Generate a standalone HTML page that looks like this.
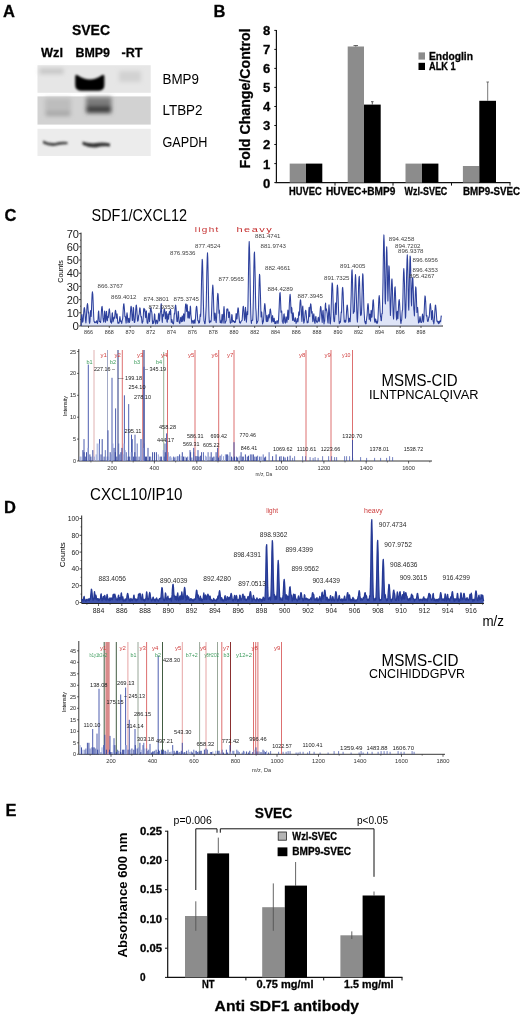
<!DOCTYPE html>
<html><head><meta charset="utf-8"><title>Figure</title>
<style>
html,body{margin:0;padding:0;background:#fff;}
svg{display:block;font-family:"Liberation Sans",sans-serif;}
text[font-weight="bold"]{stroke:#111;stroke-width:.3px;}
</style></head><body>
<svg width="520" height="1021" viewBox="0 0 520 1021">
<defs>
<filter id="b1" x="-20%" y="-50%" width="140%" height="200%"><feGaussianBlur stdDeviation="0.9"/></filter>
<filter id="b2" x="-20%" y="-50%" width="140%" height="200%"><feGaussianBlur stdDeviation="2"/></filter>
</defs>
<rect width="520" height="1021" fill="#fff"/>
<text x="3.0" y="17.0" font-size="16.5" font-weight="bold">A</text>
<text x="213.5" y="16.8" font-size="16.5" font-weight="bold">B</text>
<text x="4.5" y="221.0" font-size="16.5" font-weight="bold">C</text>
<text x="4.0" y="512.5" font-size="16.5" font-weight="bold">D</text>
<text x="5.5" y="815.8" font-size="16.5" font-weight="bold">E</text>
<text x="72.0" y="35.0" font-size="15" font-weight="bold" textLength="38.0" lengthAdjust="spacingAndGlyphs">SVEC</text>
<text x="41.0" y="57.0" font-size="12.5" font-weight="bold" textLength="22.0" lengthAdjust="spacingAndGlyphs">Wzl</text>
<text x="75.5" y="57.0" font-size="12.5" font-weight="bold" textLength="34.5" lengthAdjust="spacingAndGlyphs">BMP9</text>
<text x="121.5" y="57.0" font-size="12.5" font-weight="bold" textLength="21.0" lengthAdjust="spacingAndGlyphs">-RT</text>
<text x="162.5" y="84.0" font-size="14.5" textLength="36.5" lengthAdjust="spacingAndGlyphs">BMP9</text>
<text x="162.5" y="115.0" font-size="14.5" textLength="40.0" lengthAdjust="spacingAndGlyphs">LTBP2</text>
<text x="162.5" y="146.5" font-size="14.5" textLength="45.0" lengthAdjust="spacingAndGlyphs">GAPDH</text>
<g id="gel">
<rect x="37.5" y="65.2" width="113.2" height="27.6" fill="#e6e6e6" />
<rect x="37.5" y="96.4" width="113.2" height="28.2" fill="#d2d2d2" />
<rect x="37.5" y="128.8" width="113.2" height="27.2" fill="#ececec" />
<g filter="url(#b2)">
<rect x="39.5" y="68.5" width="24.0" height="5.5" fill="#c6c6c6" />
<rect x="119.0" y="71.0" width="22.0" height="11.0" fill="#d2d2d2" />
<rect x="45.0" y="98.0" width="26.0" height="18.0" fill="#bdbdbd" />
<rect x="46.0" y="111.5" width="24.0" height="4.5" fill="#a4a4a4" />
<rect x="86.0" y="97.0" width="25.5" height="16.0" fill="#7c7c7c" />
<rect x="86.5" y="106.0" width="24.5" height="7.0" fill="#3c3c3c" />
</g>
<g filter="url(#b1)">
<path d="M75.2 77 Q75.2 73.500 78 75.5 Q90 83.5 101.5 75.5 Q104.4 73.500 104.4 77 L104.4 85 Q104.4 90.8 98 90.8 L82 90.8 Q75.2 90.8 75.2 85 Z" fill="#030303"/>
<path d="M43 140.500 Q49 143.500 55 143 Q61 141 67.5 142 L67.5 144.3 Q61 143.8 55 145.8 Q49 146.500 43 143.500 Z" fill="#444"/>
<path d="M82.5 141.500 Q89 144 96 143 Q103 142 110 143.500 L110 146.5 Q103 145.5 96 147.5 Q89 148 82.5 144.800 Z" fill="#383838"/>
</g>
</g>
<text transform="translate(249.8,98.4) rotate(-90)" text-anchor="middle" font-size="14" font-weight="bold" textLength="140.0" lengthAdjust="spacingAndGlyphs">Fold Change/Control</text>
<line x1="274.3" y1="182.6" x2="276.4" y2="182.6" stroke="#111" stroke-width="1" />
<text x="270.2" y="187.5" font-size="12" font-weight="bold" text-anchor="end" textLength="7.3" lengthAdjust="spacingAndGlyphs">0</text>
<line x1="274.3" y1="163.6" x2="276.4" y2="163.6" stroke="#111" stroke-width="1" />
<text x="270.2" y="168.5" font-size="12" font-weight="bold" text-anchor="end" textLength="7.3" lengthAdjust="spacingAndGlyphs">1</text>
<line x1="274.3" y1="144.5" x2="276.4" y2="144.5" stroke="#111" stroke-width="1" />
<text x="270.2" y="149.4" font-size="12" font-weight="bold" text-anchor="end" textLength="7.3" lengthAdjust="spacingAndGlyphs">2</text>
<line x1="274.3" y1="125.5" x2="276.4" y2="125.5" stroke="#111" stroke-width="1" />
<text x="270.2" y="130.4" font-size="12" font-weight="bold" text-anchor="end" textLength="7.3" lengthAdjust="spacingAndGlyphs">3</text>
<line x1="274.3" y1="106.5" x2="276.4" y2="106.5" stroke="#111" stroke-width="1" />
<text x="270.2" y="111.4" font-size="12" font-weight="bold" text-anchor="end" textLength="7.3" lengthAdjust="spacingAndGlyphs">4</text>
<line x1="274.3" y1="87.4" x2="276.4" y2="87.4" stroke="#111" stroke-width="1" />
<text x="270.2" y="92.3" font-size="12" font-weight="bold" text-anchor="end" textLength="7.3" lengthAdjust="spacingAndGlyphs">5</text>
<line x1="274.3" y1="68.4" x2="276.4" y2="68.4" stroke="#111" stroke-width="1" />
<text x="270.2" y="73.3" font-size="12" font-weight="bold" text-anchor="end" textLength="7.3" lengthAdjust="spacingAndGlyphs">6</text>
<line x1="274.3" y1="49.4" x2="276.4" y2="49.4" stroke="#111" stroke-width="1" />
<text x="270.2" y="54.3" font-size="12" font-weight="bold" text-anchor="end" textLength="7.3" lengthAdjust="spacingAndGlyphs">7</text>
<line x1="274.3" y1="30.4" x2="276.4" y2="30.4" stroke="#111" stroke-width="1" />
<text x="270.2" y="35.3" font-size="12" font-weight="bold" text-anchor="end" textLength="7.3" lengthAdjust="spacingAndGlyphs">8</text>
<line x1="276.4" y1="29.9" x2="276.4" y2="183.1" stroke="#111" stroke-width="1.2" />
<line x1="275.5" y1="182.6" x2="510.5" y2="182.6" stroke="#111" stroke-width="1.2" />
<line x1="335.0" y1="182.6" x2="335.0" y2="185.6" stroke="#111" stroke-width="1" />
<line x1="393.0" y1="182.6" x2="393.0" y2="185.6" stroke="#111" stroke-width="1" />
<line x1="451.5" y1="182.6" x2="451.5" y2="185.6" stroke="#111" stroke-width="1" />
<line x1="510.0" y1="182.6" x2="510.0" y2="185.6" stroke="#111" stroke-width="1" />
<rect x="289.7" y="163.6" width="16.3" height="19.0" fill="#8c8c8c" />
<rect x="306.0" y="163.6" width="16.3" height="19.0" fill="#000" />
<rect x="347.7" y="46.5" width="16.3" height="136.1" fill="#8c8c8c" />
<rect x="364.0" y="104.6" width="16.7" height="78.0" fill="#000" />
<rect x="405.5" y="163.6" width="16.5" height="19.0" fill="#8c8c8c" />
<rect x="422.0" y="163.6" width="16.4" height="19.0" fill="#000" />
<rect x="462.9" y="166.0" width="16.4" height="16.6" fill="#8c8c8c" />
<rect x="479.3" y="100.8" width="16.7" height="81.8" fill="#000" />
<line x1="355.8" y1="46.5" x2="355.8" y2="45.6" stroke="#333" stroke-width="0.8" />
<line x1="353.5" y1="45.6" x2="358.0" y2="45.6" stroke="#333" stroke-width="0.8" />
<line x1="372.3" y1="104.6" x2="372.3" y2="101.7" stroke="#333" stroke-width="0.8" />
<line x1="371.0" y1="101.7" x2="373.6" y2="101.7" stroke="#333" stroke-width="0.8" />
<line x1="487.7" y1="100.8" x2="487.7" y2="82.0" stroke="#555" stroke-width="0.8" />
<line x1="486.4" y1="82.0" x2="489.0" y2="82.0" stroke="#555" stroke-width="0.8" />
<rect x="418.5" y="52.4" width="6.5" height="7.2" fill="#8c8c8c" />
<rect x="418.5" y="62.8" width="6.5" height="7.2" fill="#000" />
<text x="429.0" y="60.0" font-size="10" font-weight="bold" textLength="44.0" lengthAdjust="spacingAndGlyphs">Endoglin</text>
<text x="429.0" y="70.2" font-size="10" font-weight="bold" textLength="26.7" lengthAdjust="spacingAndGlyphs">ALK 1</text>
<text x="289.0" y="195.3" font-size="10" font-weight="bold" textLength="32.7" lengthAdjust="spacingAndGlyphs">HUVEC</text>
<text x="326.0" y="195.3" font-size="10" font-weight="bold" textLength="69.4" lengthAdjust="spacingAndGlyphs">HUVEC+BMP9</text>
<text x="404.6" y="195.3" font-size="10" font-weight="bold" textLength="42.7" lengthAdjust="spacingAndGlyphs">Wzl-SVEC</text>
<text x="463.0" y="195.3" font-size="10" font-weight="bold" textLength="57.0" lengthAdjust="spacingAndGlyphs">BMP9-SVEC</text>
<text x="91.5" y="221.0" font-size="16.5" textLength="95.5" lengthAdjust="spacingAndGlyphs">SDF1/CXCL12</text>
<line x1="81.0" y1="232.6" x2="81.0" y2="326.0" stroke="#222" stroke-width="1" />
<line x1="81.0" y1="326.0" x2="443.0" y2="326.0" stroke="#222" stroke-width="1" />
<line x1="79.0" y1="326.0" x2="81.0" y2="326.0" stroke="#222" stroke-width="0.8" />
<text x="79.0" y="330.1" font-size="11.5" fill="#222" text-anchor="end">0</text>
<line x1="79.0" y1="312.8" x2="81.0" y2="312.8" stroke="#222" stroke-width="0.8" />
<text x="79.0" y="316.9" font-size="11.5" fill="#222" text-anchor="end" textLength="12.3" lengthAdjust="spacingAndGlyphs">10</text>
<line x1="79.0" y1="299.6" x2="81.0" y2="299.6" stroke="#222" stroke-width="0.8" />
<text x="79.0" y="303.7" font-size="11.5" fill="#222" text-anchor="end" textLength="12.3" lengthAdjust="spacingAndGlyphs">20</text>
<line x1="79.0" y1="286.4" x2="81.0" y2="286.4" stroke="#222" stroke-width="0.8" />
<text x="79.0" y="290.5" font-size="11.5" fill="#222" text-anchor="end" textLength="12.3" lengthAdjust="spacingAndGlyphs">30</text>
<line x1="79.0" y1="273.2" x2="81.0" y2="273.2" stroke="#222" stroke-width="0.8" />
<text x="79.0" y="277.3" font-size="11.5" fill="#222" text-anchor="end" textLength="12.3" lengthAdjust="spacingAndGlyphs">40</text>
<line x1="79.0" y1="260.0" x2="81.0" y2="260.0" stroke="#222" stroke-width="0.8" />
<text x="79.0" y="264.1" font-size="11.5" fill="#222" text-anchor="end" textLength="12.3" lengthAdjust="spacingAndGlyphs">50</text>
<line x1="79.0" y1="246.8" x2="81.0" y2="246.8" stroke="#222" stroke-width="0.8" />
<text x="79.0" y="250.9" font-size="11.5" fill="#222" text-anchor="end" textLength="12.3" lengthAdjust="spacingAndGlyphs">60</text>
<line x1="79.0" y1="233.6" x2="81.0" y2="233.6" stroke="#222" stroke-width="0.8" />
<text x="79.0" y="237.7" font-size="11.5" fill="#222" text-anchor="end" textLength="12.3" lengthAdjust="spacingAndGlyphs">70</text>
<line x1="80.0" y1="319.4" x2="81.0" y2="319.4" stroke="#222" stroke-width="0.6" />
<line x1="80.0" y1="306.2" x2="81.0" y2="306.2" stroke="#222" stroke-width="0.6" />
<line x1="80.0" y1="293.0" x2="81.0" y2="293.0" stroke="#222" stroke-width="0.6" />
<line x1="80.0" y1="279.8" x2="81.0" y2="279.8" stroke="#222" stroke-width="0.6" />
<line x1="80.0" y1="266.6" x2="81.0" y2="266.6" stroke="#222" stroke-width="0.6" />
<line x1="80.0" y1="253.4" x2="81.0" y2="253.4" stroke="#222" stroke-width="0.6" />
<line x1="80.0" y1="240.2" x2="81.0" y2="240.2" stroke="#222" stroke-width="0.6" />
<text transform="translate(63.2,271.5) rotate(-90)" text-anchor="middle" font-size="7.5" textLength="22.5" lengthAdjust="spacingAndGlyphs">Counts</text>
<line x1="88.5" y1="326.0" x2="88.5" y2="328.0" stroke="#222" stroke-width="0.7" />
<text x="88.5" y="334.0" font-size="4.5" fill="#333" text-anchor="middle" textLength="9.0" lengthAdjust="spacingAndGlyphs">866</text>
<line x1="109.3" y1="326.0" x2="109.3" y2="328.0" stroke="#222" stroke-width="0.7" />
<text x="109.3" y="334.0" font-size="4.5" fill="#333" text-anchor="middle" textLength="9.0" lengthAdjust="spacingAndGlyphs">868</text>
<line x1="130.1" y1="326.0" x2="130.1" y2="328.0" stroke="#222" stroke-width="0.7" />
<text x="130.1" y="334.0" font-size="4.5" fill="#333" text-anchor="middle" textLength="9.0" lengthAdjust="spacingAndGlyphs">870</text>
<line x1="150.8" y1="326.0" x2="150.8" y2="328.0" stroke="#222" stroke-width="0.7" />
<text x="150.8" y="334.0" font-size="4.5" fill="#333" text-anchor="middle" textLength="9.0" lengthAdjust="spacingAndGlyphs">872</text>
<line x1="171.6" y1="326.0" x2="171.6" y2="328.0" stroke="#222" stroke-width="0.7" />
<text x="171.6" y="334.0" font-size="4.5" fill="#333" text-anchor="middle" textLength="9.0" lengthAdjust="spacingAndGlyphs">874</text>
<line x1="192.4" y1="326.0" x2="192.4" y2="328.0" stroke="#222" stroke-width="0.7" />
<text x="192.4" y="334.0" font-size="4.5" fill="#333" text-anchor="middle" textLength="9.0" lengthAdjust="spacingAndGlyphs">876</text>
<line x1="213.2" y1="326.0" x2="213.2" y2="328.0" stroke="#222" stroke-width="0.7" />
<text x="213.2" y="334.0" font-size="4.5" fill="#333" text-anchor="middle" textLength="9.0" lengthAdjust="spacingAndGlyphs">878</text>
<line x1="234.0" y1="326.0" x2="234.0" y2="328.0" stroke="#222" stroke-width="0.7" />
<text x="234.0" y="334.0" font-size="4.5" fill="#333" text-anchor="middle" textLength="9.0" lengthAdjust="spacingAndGlyphs">880</text>
<line x1="254.7" y1="326.0" x2="254.7" y2="328.0" stroke="#222" stroke-width="0.7" />
<text x="254.7" y="334.0" font-size="4.5" fill="#333" text-anchor="middle" textLength="9.0" lengthAdjust="spacingAndGlyphs">882</text>
<line x1="275.5" y1="326.0" x2="275.5" y2="328.0" stroke="#222" stroke-width="0.7" />
<text x="275.5" y="334.0" font-size="4.5" fill="#333" text-anchor="middle" textLength="9.0" lengthAdjust="spacingAndGlyphs">884</text>
<line x1="296.3" y1="326.0" x2="296.3" y2="328.0" stroke="#222" stroke-width="0.7" />
<text x="296.3" y="334.0" font-size="4.5" fill="#333" text-anchor="middle" textLength="9.0" lengthAdjust="spacingAndGlyphs">886</text>
<line x1="317.1" y1="326.0" x2="317.1" y2="328.0" stroke="#222" stroke-width="0.7" />
<text x="317.1" y="334.0" font-size="4.5" fill="#333" text-anchor="middle" textLength="9.0" lengthAdjust="spacingAndGlyphs">888</text>
<line x1="337.9" y1="326.0" x2="337.9" y2="328.0" stroke="#222" stroke-width="0.7" />
<text x="337.9" y="334.0" font-size="4.5" fill="#333" text-anchor="middle" textLength="9.0" lengthAdjust="spacingAndGlyphs">890</text>
<line x1="358.6" y1="326.0" x2="358.6" y2="328.0" stroke="#222" stroke-width="0.7" />
<text x="358.6" y="334.0" font-size="4.5" fill="#333" text-anchor="middle" textLength="9.0" lengthAdjust="spacingAndGlyphs">892</text>
<line x1="379.4" y1="326.0" x2="379.4" y2="328.0" stroke="#222" stroke-width="0.7" />
<text x="379.4" y="334.0" font-size="4.5" fill="#333" text-anchor="middle" textLength="9.0" lengthAdjust="spacingAndGlyphs">894</text>
<line x1="400.2" y1="326.0" x2="400.2" y2="328.0" stroke="#222" stroke-width="0.7" />
<text x="400.2" y="334.0" font-size="4.5" fill="#333" text-anchor="middle" textLength="9.0" lengthAdjust="spacingAndGlyphs">896</text>
<line x1="421.0" y1="326.0" x2="421.0" y2="328.0" stroke="#222" stroke-width="0.7" />
<text x="421.0" y="334.0" font-size="4.5" fill="#333" text-anchor="middle" textLength="9.0" lengthAdjust="spacingAndGlyphs">898</text>
<polygon points="81.2,326.0 81.2,326.0 81.5,315.4 81.9,314.5 82.2,318.1 82.5,322.2 82.8,321.9 83.1,320.9 83.4,317.0 83.7,312.6 84.0,308.9 84.3,307.5 84.7,308.9 85.0,312.6 85.3,317.0 85.6,320.9 85.9,323.0 86.2,319.8 86.5,315.1 86.8,309.7 87.1,305.3 87.5,303.6 87.8,305.3 88.1,309.7 88.4,313.1 88.7,312.1 89.0,316.4 89.3,321.8 89.6,323.3 90.0,321.3 90.3,315.3 90.6,310.5 90.9,311.7 91.2,316.5 91.5,309.3 91.8,301.1 92.1,294.3 92.4,291.7 92.8,294.3 93.1,301.1 93.4,309.3 93.7,316.5 94.0,321.2 94.3,321.7 94.6,322.7 94.9,321.7 95.3,322.3 95.6,322.3 95.9,322.8 96.2,322.4 96.5,320.8 96.8,321.4 97.1,321.3 97.4,323.6 97.7,322.4 98.1,317.7 98.4,312.1 98.7,311.0 99.0,315.7 99.3,321.4 99.6,321.4 99.9,321.8 100.2,321.7 100.6,322.5 100.9,319.2 101.2,314.8 101.5,310.1 101.8,306.9 102.1,306.4 102.4,308.8 102.7,313.2 103.0,317.9 103.4,320.8 103.7,322.1 104.0,321.4 104.3,315.7 104.6,311.0 104.9,312.1 105.2,317.7 105.5,322.3 105.9,320.0 106.2,314.3 106.5,311.3 106.8,314.3 107.1,320.0 107.4,320.7 107.7,317.1 108.0,316.4 108.3,317.6 108.7,313.5 109.0,310.2 109.3,308.8 109.6,310.2 109.9,313.5 110.2,317.6 110.5,321.2 110.8,322.4 111.2,322.4 111.5,323.2 111.8,318.6 112.1,313.6 112.4,312.7 112.7,316.8 113.0,321.9 113.3,320.9 113.6,319.9 114.0,317.2 114.3,317.8 114.6,318.3 114.9,314.5 115.2,311.4 115.5,310.2 115.8,311.4 116.1,314.5 116.4,318.3 116.8,314.7 117.1,313.9 117.4,317.6 117.7,322.1 118.0,323.3 118.3,323.2 118.6,322.3 118.9,323.3 119.3,322.1 119.6,318.5 119.9,316.6 120.2,318.5 120.5,321.2 120.8,321.7 121.1,321.9 121.4,321.1 121.7,323.4 122.1,321.0 122.4,319.7 122.7,318.3 123.0,313.3 123.3,308.0 123.6,304.3 123.9,303.8 124.2,306.5 124.6,311.5 124.9,316.8 125.2,316.2 125.5,316.9 125.8,320.6 126.1,323.1 126.4,320.5 126.7,315.4 127.0,312.7 127.4,315.4 127.7,320.5 128.0,322.8 128.3,321.7 128.6,318.8 128.9,318.3 129.2,320.7 129.5,322.4 129.9,320.5 130.2,316.4 130.5,311.6 130.8,307.7 131.1,306.2 131.4,307.7 131.7,311.6 132.0,316.4 132.3,320.5 132.7,320.3 133.0,313.2 133.3,307.4 133.6,308.7 133.9,315.7 134.2,322.1 134.5,322.5 134.8,322.0 135.2,318.8 135.5,314.0 135.8,309.1 136.1,305.6 136.4,305.1 136.7,307.7 137.0,312.3 137.3,317.3 137.6,321.3 138.0,320.9 138.3,319.9 138.6,315.7 138.9,314.9 139.2,314.0 139.5,310.0 139.8,307.7 140.1,308.2 140.4,311.2 140.8,315.5 141.1,317.1 141.4,316.4 141.7,319.4 142.0,322.8 142.3,323.1 142.6,321.5 142.9,321.8 143.3,316.2 143.6,309.5 143.9,308.3 144.2,311.1 144.5,309.0 144.8,309.4 145.1,312.3 145.4,316.3 145.7,317.7 146.1,312.0 146.4,310.9 146.7,315.6 147.0,321.4 147.3,323.2 147.6,321.3 147.9,323.3 148.2,318.8 148.6,314.0 148.9,313.0 149.2,317.1 149.5,321.7 149.8,318.4 150.1,314.0 150.4,310.0 150.7,307.7 151.0,308.2 151.4,311.2 151.7,311.5 152.0,314.4 152.3,320.0 152.6,323.8 152.9,320.9 153.2,321.4 153.5,323.2 153.9,322.3 154.2,317.6 154.5,313.8 154.8,314.7 155.1,319.3 155.4,321.2 155.7,324.0 156.0,320.7 156.3,321.3 156.7,320.1 157.0,321.3 157.3,323.6 157.6,322.7 157.9,322.1 158.2,319.0 158.5,314.2 158.8,313.3 159.2,317.2 159.5,321.0 159.8,317.8 160.1,314.4 160.4,312.0 160.7,311.6 161.0,305.3 161.3,303.7 161.6,310.6 162.0,319.2 162.3,322.4 162.6,317.9 162.9,314.3 163.2,315.2 163.5,316.3 163.8,312.3 164.1,309.4 164.5,309.0 164.8,311.1 165.1,314.9 165.4,318.9 165.7,318.0 166.0,312.6 166.3,311.6 166.6,316.1 166.9,321.4 167.3,322.2 167.6,317.6 167.9,313.8 168.2,314.7 168.5,319.3 168.8,316.6 169.1,313.4 169.4,311.6 169.7,312.0 170.1,314.4 170.4,309.3 170.7,310.5 171.0,316.8 171.3,322.5 171.6,320.8 171.9,319.5 172.2,320.8 172.6,322.7 172.9,323.5 173.2,322.8 173.5,323.9 173.8,320.7 174.1,315.6 174.4,313.1 174.7,314.0 175.0,309.1 175.4,305.6 175.7,305.1 176.0,307.7 176.3,312.3 176.6,317.3 176.9,321.3 177.2,321.6 177.5,321.5 177.9,315.8 178.2,311.2 178.5,312.2 178.8,317.8 179.1,322.2 179.4,322.1 179.7,323.5 180.0,322.7 180.3,320.0 180.7,317.3 181.0,317.9 181.3,321.2 181.6,321.8 181.9,317.9 182.2,315.9 182.5,317.9 182.8,321.4 183.2,319.2 183.5,314.6 183.8,313.7 184.1,317.5 184.4,321.3 184.7,318.3 185.0,313.3 185.3,308.0 185.6,304.3 186.0,303.8 186.3,306.5 186.6,311.5 186.9,309.0 187.2,304.7 187.5,309.0 187.8,317.3 188.1,318.1 188.5,312.7 188.8,311.6 189.1,316.1 189.4,318.3 189.7,314.5 190.0,311.4 190.3,306.1 190.6,307.5 190.9,314.5 191.3,318.3 191.6,321.6 191.9,323.3 192.2,323.0 192.5,321.6 192.8,320.4 193.1,320.8 193.4,321.7 193.8,323.5 194.1,321.1 194.4,319.9 194.7,321.1 195.0,323.3 195.3,320.5 195.6,316.4 195.9,311.6 196.2,307.7 196.6,306.2 196.9,307.7 197.2,311.6 197.5,316.4 197.8,320.5 198.1,320.7 198.4,321.1 198.7,323.1 199.0,320.9 199.4,322.8 199.7,321.1 200.0,316.5 200.3,314.1 200.6,316.5 200.9,311.0 201.2,298.3 201.5,282.5 201.9,267.6 202.2,259.3 202.5,261.0 202.8,272.1 203.1,287.9 203.4,303.0 203.7,314.2 204.0,320.8 204.3,321.7 204.7,323.6 205.0,323.8 205.3,321.6 205.6,317.6 205.9,311.8 206.2,305.6 206.5,290.3 206.8,272.8 207.2,258.4 207.5,252.7 207.8,258.4 208.1,272.8 208.4,290.3 208.7,305.6 209.0,316.1 209.3,321.9 209.6,322.7 210.0,321.1 210.3,321.7 210.6,321.1 210.9,322.0 211.2,320.5 211.5,314.6 211.8,306.1 212.1,296.3 212.5,288.2 212.8,285.1 213.1,288.2 213.4,296.3 213.7,306.1 214.0,314.6 214.3,320.5 214.6,317.0 214.9,313.0 215.3,314.0 215.6,318.8 215.9,321.5 216.2,322.6 216.5,318.7 216.8,312.4 217.1,304.7 217.4,297.4 217.8,293.3 218.1,294.2 218.4,299.6 218.7,307.3 219.0,313.1 219.3,309.9 219.6,313.1 219.9,319.4 220.2,322.6 220.6,321.9 220.9,320.9 221.2,323.1 221.5,322.4 221.8,317.8 222.1,314.2 222.4,315.0 222.7,319.5 223.1,323.1 223.4,318.0 223.7,310.4 224.0,306.5 224.3,310.4 224.6,318.0 224.9,323.3 225.2,323.0 225.5,322.0 225.9,321.2 226.2,320.8 226.5,314.3 226.8,309.1 227.1,310.3 227.4,310.2 227.7,308.8 228.0,310.2 228.3,313.5 228.7,317.6 229.0,316.2 229.3,311.8 229.6,312.8 229.9,318.1 230.2,322.5 230.5,323.2 230.8,322.2 231.2,322.5 231.5,318.1 231.8,314.5 232.1,315.3 232.4,319.6 232.7,322.0 233.0,321.6 233.3,320.5 233.6,321.6 234.0,321.3 234.3,321.4 234.6,322.6 234.9,321.3 235.2,322.2 235.5,322.2 235.8,317.4 236.1,313.5 236.5,314.4 236.8,319.1 237.1,318.4 237.4,314.0 237.7,310.0 238.0,307.7 238.3,308.2 238.6,311.2 238.9,315.5 239.3,319.7 239.6,322.8 239.9,322.3 240.2,323.0 240.5,323.1 240.8,321.8 241.1,321.4 241.4,320.9 241.8,320.5 242.1,320.5 242.4,316.4 242.7,311.6 243.0,307.7 243.3,306.2 243.6,307.7 243.9,311.6 244.2,316.4 244.6,320.5 244.9,318.3 245.2,311.0 245.5,307.3 245.8,311.0 246.1,318.3 246.4,322.2 246.7,317.9 247.1,312.5 247.4,311.4 247.7,314.6 248.0,302.5 248.3,284.9 248.6,264.7 248.9,248.0 249.2,241.5 249.5,248.0 249.9,264.7 250.2,284.9 250.5,302.5 250.8,314.6 251.1,321.1 251.4,323.4 251.7,320.8 252.0,320.6 252.4,320.1 252.7,320.3 253.0,312.9 253.3,300.6 253.6,283.8 253.9,266.3 254.2,254.0 254.5,252.1 254.8,261.3 255.2,277.8 255.5,295.3 255.8,308.2 256.1,311.8 256.4,318.7 256.7,323.6 257.0,321.6 257.3,322.4 257.6,321.5 258.0,320.6 258.3,314.4 258.6,304.6 258.9,292.3 259.2,280.8 259.5,274.3 259.8,275.7 260.1,284.2 260.5,296.5 260.8,308.2 261.1,316.9 261.4,313.0 261.7,312.0 262.0,316.4 262.3,321.7 262.6,324.0 262.9,321.1 263.3,322.1 263.6,319.3 263.9,314.7 264.2,309.7 264.5,305.3 264.8,303.6 265.1,305.3 265.4,309.7 265.8,315.1 266.1,319.8 266.4,321.6 266.7,317.4 267.0,315.2 267.3,317.4 267.6,321.6 267.9,321.1 268.2,319.6 268.6,315.3 268.9,314.4 269.2,318.0 269.5,316.3 269.8,312.3 270.1,309.4 270.4,309.0 270.7,311.1 271.1,314.6 271.4,318.9 271.7,322.2 272.0,321.7 272.3,317.7 272.6,315.6 272.9,317.7 273.2,320.8 273.5,321.8 273.9,318.9 274.2,318.3 274.5,320.7 274.8,323.6 275.1,323.5 275.4,321.5 275.7,323.6 276.0,323.7 276.4,322.0 276.7,321.5 277.0,320.8 277.3,321.9 277.6,321.0 277.9,323.5 278.2,322.6 278.5,320.1 278.8,314.5 279.2,306.9 279.5,299.0 279.8,293.5 280.1,292.6 280.4,296.8 280.7,304.2 281.0,312.2 281.3,312.2 281.7,311.1 282.0,315.7 282.3,321.4 282.6,321.9 282.9,322.8 283.2,323.4 283.5,319.3 283.8,314.7 284.1,313.8 284.5,317.6 284.8,322.3 285.1,321.2 285.4,323.2 285.7,319.6 286.0,316.7 286.3,317.4 286.6,320.9 286.9,322.4 287.3,319.5 287.6,313.2 287.9,310.1 288.2,313.2 288.5,319.5 288.8,317.2 289.1,310.6 289.4,303.0 289.8,296.8 290.1,294.3 290.4,296.8 290.7,303.0 291.0,310.6 291.3,313.1 291.6,307.3 291.9,308.6 292.2,315.7 292.6,320.5 292.9,315.4 293.2,312.7 293.5,315.4 293.8,320.5 294.1,320.8 294.4,320.9 294.7,321.5 295.1,318.4 295.4,317.8 295.7,320.3 296.0,323.5 296.3,322.4 296.6,322.1 296.9,320.9 297.2,318.6 297.5,319.1 297.9,321.9 298.2,320.2 298.5,314.7 298.8,311.9 299.1,314.7 299.4,315.1 299.7,308.9 300.0,303.1 300.4,299.8 300.7,300.5 301.0,304.9 301.3,311.1 301.6,317.0 301.9,321.4 302.2,315.0 302.5,307.4 302.8,306.0 303.2,312.2 303.5,319.9 303.8,323.2 304.1,322.3 304.4,320.6 304.7,318.3 305.0,314.5 305.3,311.4 305.7,310.2 306.0,311.4 306.3,314.5 306.6,318.3 306.9,320.6 307.2,322.9 307.5,321.7 307.8,322.2 308.1,322.5 308.5,318.3 308.8,311.0 309.1,307.2 309.4,311.0 309.7,316.8 310.0,311.5 310.3,306.5 310.6,303.8 310.9,304.3 311.3,308.0 311.6,313.3 311.9,311.2 312.2,312.2 312.5,317.8 312.8,321.7 313.1,320.8 313.4,316.2 313.8,313.8 314.1,316.2 314.4,321.0 314.7,322.6 315.0,323.4 315.3,320.7 315.6,317.1 315.9,316.4 316.2,319.4 316.6,321.8 316.9,322.1 317.2,322.6 317.5,321.4 317.8,321.2 318.1,317.9 318.4,317.3 318.7,320.0 319.1,321.7 319.4,320.9 319.7,317.9 320.0,313.2 320.3,308.8 320.6,306.4 320.9,306.9 321.2,310.1 321.5,314.8 321.9,319.2 322.2,322.5 322.5,317.3 322.8,311.4 323.1,310.3 323.4,315.1 323.7,320.7 324.0,324.0 324.4,321.4 324.7,321.2 325.0,313.3 325.3,304.8 325.6,303.1 325.9,310.2 326.2,309.4 326.5,309.0 326.8,311.1 327.2,313.3 327.5,318.4 327.8,322.2 328.1,323.1 328.4,317.2 328.7,308.9 329.0,304.7 329.3,308.9 329.7,317.2 330.0,323.0 330.3,323.9 330.6,321.5 330.9,316.3 331.2,308.1 331.5,297.8 331.8,288.2 332.1,282.8 332.5,284.0 332.8,291.1 333.1,301.3 333.4,311.1 333.7,318.4 334.0,321.2 334.3,321.8 334.6,321.1 335.0,313.2 335.3,304.5 335.6,302.9 335.9,310.0 336.2,314.6 336.5,306.1 336.8,296.3 337.1,288.2 337.4,285.1 337.8,288.2 338.1,296.3 338.4,306.1 338.7,314.6 339.0,320.5 339.3,323.7 339.6,321.7 339.9,321.7 340.2,322.6 340.6,321.1 340.9,316.2 341.2,311.8 341.5,312.7 341.8,304.0 342.1,294.8 342.4,288.4 342.7,287.4 343.1,292.2 343.4,300.8 343.7,310.0 344.0,317.3 344.3,322.0 344.6,321.9 344.9,320.8 345.2,320.4 345.5,322.2 345.9,321.3 346.2,317.3 346.5,312.3 346.8,307.7 347.1,305.1 347.4,305.6 347.7,309.1 348.0,314.0 348.4,318.8 348.7,322.3 349.0,321.7 349.3,318.7 349.6,318.2 349.9,320.6 350.2,321.7 350.5,316.1 350.8,306.6 351.2,293.9 351.5,280.6 351.8,271.2 352.1,269.7 352.4,276.8 352.7,289.3 353.0,302.7 353.3,313.4 353.7,312.3 354.0,311.2 354.3,311.7 354.6,300.9 354.9,288.6 355.2,278.5 355.5,274.5 355.8,278.5 356.1,288.6 356.5,300.9 356.8,311.7 357.1,319.0 357.4,322.1 357.7,317.2 358.0,308.9 358.3,297.6 358.6,285.8 359.0,277.6 359.3,276.3 359.6,282.5 359.9,293.6 360.2,305.4 360.5,314.8 360.8,315.6 361.1,314.8 361.4,314.2 361.8,304.3 362.1,291.8 362.4,280.2 362.7,273.7 363.0,275.0 363.3,283.7 363.6,296.1 363.9,308.0 364.3,314.8 364.6,320.3 364.9,321.9 365.2,323.2 365.5,321.5 365.8,323.9 366.1,323.6 366.4,320.5 366.7,318.0 367.1,315.1 367.4,309.7 367.7,305.3 368.0,303.6 368.3,305.3 368.6,309.7 368.9,315.1 369.2,319.4 369.5,314.9 369.9,314.1 370.2,317.8 370.5,321.2 370.8,315.1 371.1,310.2 371.4,311.4 371.7,317.3 372.0,317.0 372.4,311.1 372.7,304.9 373.0,300.5 373.3,299.8 373.6,303.1 373.9,308.9 374.2,315.1 374.5,320.1 374.8,322.2 375.2,321.1 375.5,318.9 375.8,319.4 376.1,322.0 376.4,323.1 376.7,321.7 377.0,321.2 377.3,323.3 377.7,321.9 378.0,317.6 378.3,311.2 378.6,304.0 378.9,298.0 379.2,295.6 379.5,298.0 379.8,304.0 380.1,311.2 380.5,316.5 380.8,317.2 381.1,320.8 381.4,320.8 381.7,315.8 382.0,313.3 382.3,313.7 382.6,300.7 383.0,281.7 383.3,259.9 383.6,241.9 383.9,234.9 384.2,241.9 384.5,259.9 384.8,281.7 385.1,300.7 385.4,304.0 385.8,287.4 386.1,268.5 386.4,252.9 386.7,246.8 387.0,252.9 387.3,268.5 387.6,287.4 387.9,301.0 388.3,286.7 388.6,273.3 388.9,265.8 389.2,267.4 389.5,277.4 389.8,291.6 390.1,305.3 390.4,315.4 390.7,309.8 391.1,299.1 391.4,287.9 391.7,280.1 392.0,278.9 392.3,284.8 392.6,295.3 392.9,306.5 393.2,315.4 393.6,319.1 393.9,312.5 394.2,303.6 394.5,294.3 394.8,287.8 395.1,286.8 395.4,291.6 395.7,300.4 396.0,309.7 396.4,317.2 396.7,319.9 397.0,314.1 397.3,311.2 397.6,314.1 397.9,318.7 398.2,313.1 398.5,306.8 398.8,301.6 399.2,299.6 399.5,301.6 399.8,306.8 400.1,313.1 400.4,318.7 400.7,322.4 401.0,323.5 401.3,321.1 401.7,319.6 402.0,313.6 402.3,310.5 402.6,310.0 402.9,298.1 403.2,284.3 403.5,273.0 403.8,268.6 404.1,273.0 404.5,284.3 404.8,298.1 405.1,310.0 405.4,318.2 405.7,316.4 406.0,306.2 406.3,291.3 406.6,274.2 407.0,260.2 407.3,254.7 407.6,260.2 407.9,274.2 408.2,291.3 408.5,306.2 408.8,310.3 409.1,297.0 409.4,280.3 409.8,264.7 410.1,256.0 410.4,257.8 410.7,269.5 411.0,286.0 411.3,301.9 411.6,305.9 411.9,294.4 412.3,283.6 412.6,277.6 412.9,278.9 413.2,286.9 413.5,298.3 413.8,309.3 414.1,311.4 414.4,315.9 414.7,309.7 415.1,300.4 415.4,291.6 415.7,286.8 416.0,287.8 416.3,294.3 416.6,303.6 416.9,312.5 417.2,311.1 417.6,307.4 417.9,311.1 418.2,318.3 418.5,322.9 418.8,321.1 419.1,321.3 419.4,322.1 419.7,318.4 420.0,316.5 420.4,318.4 420.7,322.1 421.0,322.0 421.3,322.5 421.6,322.3 421.9,321.1 422.2,316.5 422.5,314.1 422.9,316.5 423.2,321.1 423.5,322.1 423.8,319.2 424.1,313.5 424.4,306.4 424.7,299.7 425.0,295.9 425.3,296.7 425.7,301.7 426.0,308.8 426.3,315.6 426.6,316.2 426.9,315.5 427.2,318.7 427.5,321.1 427.8,321.4 428.1,321.4 428.5,319.7 428.8,316.8 429.1,317.5 429.4,315.1 429.7,309.7 430.0,305.3 430.3,303.6 430.6,305.3 431.0,309.7 431.3,315.1 431.6,319.8 431.9,317.5 432.2,311.7 432.5,310.6 432.8,315.4 433.1,321.3 433.4,320.9 433.8,323.9 434.1,322.1 434.4,318.8 434.7,314.0 435.0,309.1 435.3,305.6 435.6,305.1 435.9,307.7 436.3,312.3 436.6,317.3 436.9,321.3 437.2,321.4 437.5,321.1 437.8,322.3 438.1,322.3 438.4,323.7 438.7,321.4 439.1,321.7 439.4,323.1 439.7,321.1 440.0,320.8 440.3,320.9 440.6,321.8 440.9,319.0 441.2,315.9 441.6,316.6 441.6,326.0" fill="#a9b8ea" opacity="0.38"/>
<polyline points="81.2,326.0 81.5,315.4 81.9,314.5 82.2,318.1 82.5,322.2 82.8,321.9 83.1,320.9 83.4,317.0 83.7,312.6 84.0,308.9 84.3,307.5 84.7,308.9 85.0,312.6 85.3,317.0 85.6,320.9 85.9,323.0 86.2,319.8 86.5,315.1 86.8,309.7 87.1,305.3 87.5,303.6 87.8,305.3 88.1,309.7 88.4,313.1 88.7,312.1 89.0,316.4 89.3,321.8 89.6,323.3 90.0,321.3 90.3,315.3 90.6,310.5 90.9,311.7 91.2,316.5 91.5,309.3 91.8,301.1 92.1,294.3 92.4,291.7 92.8,294.3 93.1,301.1 93.4,309.3 93.7,316.5 94.0,321.2 94.3,321.7 94.6,322.7 94.9,321.7 95.3,322.3 95.6,322.3 95.9,322.8 96.2,322.4 96.5,320.8 96.8,321.4 97.1,321.3 97.4,323.6 97.7,322.4 98.1,317.7 98.4,312.1 98.7,311.0 99.0,315.7 99.3,321.4 99.6,321.4 99.9,321.8 100.2,321.7 100.6,322.5 100.9,319.2 101.2,314.8 101.5,310.1 101.8,306.9 102.1,306.4 102.4,308.8 102.7,313.2 103.0,317.9 103.4,320.8 103.7,322.1 104.0,321.4 104.3,315.7 104.6,311.0 104.9,312.1 105.2,317.7 105.5,322.3 105.9,320.0 106.2,314.3 106.5,311.3 106.8,314.3 107.1,320.0 107.4,320.7 107.7,317.1 108.0,316.4 108.3,317.6 108.7,313.5 109.0,310.2 109.3,308.8 109.6,310.2 109.9,313.5 110.2,317.6 110.5,321.2 110.8,322.4 111.2,322.4 111.5,323.2 111.8,318.6 112.1,313.6 112.4,312.7 112.7,316.8 113.0,321.9 113.3,320.9 113.6,319.9 114.0,317.2 114.3,317.8 114.6,318.3 114.9,314.5 115.2,311.4 115.5,310.2 115.8,311.4 116.1,314.5 116.4,318.3 116.8,314.7 117.1,313.9 117.4,317.6 117.7,322.1 118.0,323.3 118.3,323.2 118.6,322.3 118.9,323.3 119.3,322.1 119.6,318.5 119.9,316.6 120.2,318.5 120.5,321.2 120.8,321.7 121.1,321.9 121.4,321.1 121.7,323.4 122.1,321.0 122.4,319.7 122.7,318.3 123.0,313.3 123.3,308.0 123.6,304.3 123.9,303.8 124.2,306.5 124.6,311.5 124.9,316.8 125.2,316.2 125.5,316.9 125.8,320.6 126.1,323.1 126.4,320.5 126.7,315.4 127.0,312.7 127.4,315.4 127.7,320.5 128.0,322.8 128.3,321.7 128.6,318.8 128.9,318.3 129.2,320.7 129.5,322.4 129.9,320.5 130.2,316.4 130.5,311.6 130.8,307.7 131.1,306.2 131.4,307.7 131.7,311.6 132.0,316.4 132.3,320.5 132.7,320.3 133.0,313.2 133.3,307.4 133.6,308.7 133.9,315.7 134.2,322.1 134.5,322.5 134.8,322.0 135.2,318.8 135.5,314.0 135.8,309.1 136.1,305.6 136.4,305.1 136.7,307.7 137.0,312.3 137.3,317.3 137.6,321.3 138.0,320.9 138.3,319.9 138.6,315.7 138.9,314.9 139.2,314.0 139.5,310.0 139.8,307.7 140.1,308.2 140.4,311.2 140.8,315.5 141.1,317.1 141.4,316.4 141.7,319.4 142.0,322.8 142.3,323.1 142.6,321.5 142.9,321.8 143.3,316.2 143.6,309.5 143.9,308.3 144.2,311.1 144.5,309.0 144.8,309.4 145.1,312.3 145.4,316.3 145.7,317.7 146.1,312.0 146.4,310.9 146.7,315.6 147.0,321.4 147.3,323.2 147.6,321.3 147.9,323.3 148.2,318.8 148.6,314.0 148.9,313.0 149.2,317.1 149.5,321.7 149.8,318.4 150.1,314.0 150.4,310.0 150.7,307.7 151.0,308.2 151.4,311.2 151.7,311.5 152.0,314.4 152.3,320.0 152.6,323.8 152.9,320.9 153.2,321.4 153.5,323.2 153.9,322.3 154.2,317.6 154.5,313.8 154.8,314.7 155.1,319.3 155.4,321.2 155.7,324.0 156.0,320.7 156.3,321.3 156.7,320.1 157.0,321.3 157.3,323.6 157.6,322.7 157.9,322.1 158.2,319.0 158.5,314.2 158.8,313.3 159.2,317.2 159.5,321.0 159.8,317.8 160.1,314.4 160.4,312.0 160.7,311.6 161.0,305.3 161.3,303.7 161.6,310.6 162.0,319.2 162.3,322.4 162.6,317.9 162.9,314.3 163.2,315.2 163.5,316.3 163.8,312.3 164.1,309.4 164.5,309.0 164.8,311.1 165.1,314.9 165.4,318.9 165.7,318.0 166.0,312.6 166.3,311.6 166.6,316.1 166.9,321.4 167.3,322.2 167.6,317.6 167.9,313.8 168.2,314.7 168.5,319.3 168.8,316.6 169.1,313.4 169.4,311.6 169.7,312.0 170.1,314.4 170.4,309.3 170.7,310.5 171.0,316.8 171.3,322.5 171.6,320.8 171.9,319.5 172.2,320.8 172.6,322.7 172.9,323.5 173.2,322.8 173.5,323.9 173.8,320.7 174.1,315.6 174.4,313.1 174.7,314.0 175.0,309.1 175.4,305.6 175.7,305.1 176.0,307.7 176.3,312.3 176.6,317.3 176.9,321.3 177.2,321.6 177.5,321.5 177.9,315.8 178.2,311.2 178.5,312.2 178.8,317.8 179.1,322.2 179.4,322.1 179.7,323.5 180.0,322.7 180.3,320.0 180.7,317.3 181.0,317.9 181.3,321.2 181.6,321.8 181.9,317.9 182.2,315.9 182.5,317.9 182.8,321.4 183.2,319.2 183.5,314.6 183.8,313.7 184.1,317.5 184.4,321.3 184.7,318.3 185.0,313.3 185.3,308.0 185.6,304.3 186.0,303.8 186.3,306.5 186.6,311.5 186.9,309.0 187.2,304.7 187.5,309.0 187.8,317.3 188.1,318.1 188.5,312.7 188.8,311.6 189.1,316.1 189.4,318.3 189.7,314.5 190.0,311.4 190.3,306.1 190.6,307.5 190.9,314.5 191.3,318.3 191.6,321.6 191.9,323.3 192.2,323.0 192.5,321.6 192.8,320.4 193.1,320.8 193.4,321.7 193.8,323.5 194.1,321.1 194.4,319.9 194.7,321.1 195.0,323.3 195.3,320.5 195.6,316.4 195.9,311.6 196.2,307.7 196.6,306.2 196.9,307.7 197.2,311.6 197.5,316.4 197.8,320.5 198.1,320.7 198.4,321.1 198.7,323.1 199.0,320.9 199.4,322.8 199.7,321.1 200.0,316.5 200.3,314.1 200.6,316.5 200.9,311.0 201.2,298.3 201.5,282.5 201.9,267.6 202.2,259.3 202.5,261.0 202.8,272.1 203.1,287.9 203.4,303.0 203.7,314.2 204.0,320.8 204.3,321.7 204.7,323.6 205.0,323.8 205.3,321.6 205.6,317.6 205.9,311.8 206.2,305.6 206.5,290.3 206.8,272.8 207.2,258.4 207.5,252.7 207.8,258.4 208.1,272.8 208.4,290.3 208.7,305.6 209.0,316.1 209.3,321.9 209.6,322.7 210.0,321.1 210.3,321.7 210.6,321.1 210.9,322.0 211.2,320.5 211.5,314.6 211.8,306.1 212.1,296.3 212.5,288.2 212.8,285.1 213.1,288.2 213.4,296.3 213.7,306.1 214.0,314.6 214.3,320.5 214.6,317.0 214.9,313.0 215.3,314.0 215.6,318.8 215.9,321.5 216.2,322.6 216.5,318.7 216.8,312.4 217.1,304.7 217.4,297.4 217.8,293.3 218.1,294.2 218.4,299.6 218.7,307.3 219.0,313.1 219.3,309.9 219.6,313.1 219.9,319.4 220.2,322.6 220.6,321.9 220.9,320.9 221.2,323.1 221.5,322.4 221.8,317.8 222.1,314.2 222.4,315.0 222.7,319.5 223.1,323.1 223.4,318.0 223.7,310.4 224.0,306.5 224.3,310.4 224.6,318.0 224.9,323.3 225.2,323.0 225.5,322.0 225.9,321.2 226.2,320.8 226.5,314.3 226.8,309.1 227.1,310.3 227.4,310.2 227.7,308.8 228.0,310.2 228.3,313.5 228.7,317.6 229.0,316.2 229.3,311.8 229.6,312.8 229.9,318.1 230.2,322.5 230.5,323.2 230.8,322.2 231.2,322.5 231.5,318.1 231.8,314.5 232.1,315.3 232.4,319.6 232.7,322.0 233.0,321.6 233.3,320.5 233.6,321.6 234.0,321.3 234.3,321.4 234.6,322.6 234.9,321.3 235.2,322.2 235.5,322.2 235.8,317.4 236.1,313.5 236.5,314.4 236.8,319.1 237.1,318.4 237.4,314.0 237.7,310.0 238.0,307.7 238.3,308.2 238.6,311.2 238.9,315.5 239.3,319.7 239.6,322.8 239.9,322.3 240.2,323.0 240.5,323.1 240.8,321.8 241.1,321.4 241.4,320.9 241.8,320.5 242.1,320.5 242.4,316.4 242.7,311.6 243.0,307.7 243.3,306.2 243.6,307.7 243.9,311.6 244.2,316.4 244.6,320.5 244.9,318.3 245.2,311.0 245.5,307.3 245.8,311.0 246.1,318.3 246.4,322.2 246.7,317.9 247.1,312.5 247.4,311.4 247.7,314.6 248.0,302.5 248.3,284.9 248.6,264.7 248.9,248.0 249.2,241.5 249.5,248.0 249.9,264.7 250.2,284.9 250.5,302.5 250.8,314.6 251.1,321.1 251.4,323.4 251.7,320.8 252.0,320.6 252.4,320.1 252.7,320.3 253.0,312.9 253.3,300.6 253.6,283.8 253.9,266.3 254.2,254.0 254.5,252.1 254.8,261.3 255.2,277.8 255.5,295.3 255.8,308.2 256.1,311.8 256.4,318.7 256.7,323.6 257.0,321.6 257.3,322.4 257.6,321.5 258.0,320.6 258.3,314.4 258.6,304.6 258.9,292.3 259.2,280.8 259.5,274.3 259.8,275.7 260.1,284.2 260.5,296.5 260.8,308.2 261.1,316.9 261.4,313.0 261.7,312.0 262.0,316.4 262.3,321.7 262.6,324.0 262.9,321.1 263.3,322.1 263.6,319.3 263.9,314.7 264.2,309.7 264.5,305.3 264.8,303.6 265.1,305.3 265.4,309.7 265.8,315.1 266.1,319.8 266.4,321.6 266.7,317.4 267.0,315.2 267.3,317.4 267.6,321.6 267.9,321.1 268.2,319.6 268.6,315.3 268.9,314.4 269.2,318.0 269.5,316.3 269.8,312.3 270.1,309.4 270.4,309.0 270.7,311.1 271.1,314.6 271.4,318.9 271.7,322.2 272.0,321.7 272.3,317.7 272.6,315.6 272.9,317.7 273.2,320.8 273.5,321.8 273.9,318.9 274.2,318.3 274.5,320.7 274.8,323.6 275.1,323.5 275.4,321.5 275.7,323.6 276.0,323.7 276.4,322.0 276.7,321.5 277.0,320.8 277.3,321.9 277.6,321.0 277.9,323.5 278.2,322.6 278.5,320.1 278.8,314.5 279.2,306.9 279.5,299.0 279.8,293.5 280.1,292.6 280.4,296.8 280.7,304.2 281.0,312.2 281.3,312.2 281.7,311.1 282.0,315.7 282.3,321.4 282.6,321.9 282.9,322.8 283.2,323.4 283.5,319.3 283.8,314.7 284.1,313.8 284.5,317.6 284.8,322.3 285.1,321.2 285.4,323.2 285.7,319.6 286.0,316.7 286.3,317.4 286.6,320.9 286.9,322.4 287.3,319.5 287.6,313.2 287.9,310.1 288.2,313.2 288.5,319.5 288.8,317.2 289.1,310.6 289.4,303.0 289.8,296.8 290.1,294.3 290.4,296.8 290.7,303.0 291.0,310.6 291.3,313.1 291.6,307.3 291.9,308.6 292.2,315.7 292.6,320.5 292.9,315.4 293.2,312.7 293.5,315.4 293.8,320.5 294.1,320.8 294.4,320.9 294.7,321.5 295.1,318.4 295.4,317.8 295.7,320.3 296.0,323.5 296.3,322.4 296.6,322.1 296.9,320.9 297.2,318.6 297.5,319.1 297.9,321.9 298.2,320.2 298.5,314.7 298.8,311.9 299.1,314.7 299.4,315.1 299.7,308.9 300.0,303.1 300.4,299.8 300.7,300.5 301.0,304.9 301.3,311.1 301.6,317.0 301.9,321.4 302.2,315.0 302.5,307.4 302.8,306.0 303.2,312.2 303.5,319.9 303.8,323.2 304.1,322.3 304.4,320.6 304.7,318.3 305.0,314.5 305.3,311.4 305.7,310.2 306.0,311.4 306.3,314.5 306.6,318.3 306.9,320.6 307.2,322.9 307.5,321.7 307.8,322.2 308.1,322.5 308.5,318.3 308.8,311.0 309.1,307.2 309.4,311.0 309.7,316.8 310.0,311.5 310.3,306.5 310.6,303.8 310.9,304.3 311.3,308.0 311.6,313.3 311.9,311.2 312.2,312.2 312.5,317.8 312.8,321.7 313.1,320.8 313.4,316.2 313.8,313.8 314.1,316.2 314.4,321.0 314.7,322.6 315.0,323.4 315.3,320.7 315.6,317.1 315.9,316.4 316.2,319.4 316.6,321.8 316.9,322.1 317.2,322.6 317.5,321.4 317.8,321.2 318.1,317.9 318.4,317.3 318.7,320.0 319.1,321.7 319.4,320.9 319.7,317.9 320.0,313.2 320.3,308.8 320.6,306.4 320.9,306.9 321.2,310.1 321.5,314.8 321.9,319.2 322.2,322.5 322.5,317.3 322.8,311.4 323.1,310.3 323.4,315.1 323.7,320.7 324.0,324.0 324.4,321.4 324.7,321.2 325.0,313.3 325.3,304.8 325.6,303.1 325.9,310.2 326.2,309.4 326.5,309.0 326.8,311.1 327.2,313.3 327.5,318.4 327.8,322.2 328.1,323.1 328.4,317.2 328.7,308.9 329.0,304.7 329.3,308.9 329.7,317.2 330.0,323.0 330.3,323.9 330.6,321.5 330.9,316.3 331.2,308.1 331.5,297.8 331.8,288.2 332.1,282.8 332.5,284.0 332.8,291.1 333.1,301.3 333.4,311.1 333.7,318.4 334.0,321.2 334.3,321.8 334.6,321.1 335.0,313.2 335.3,304.5 335.6,302.9 335.9,310.0 336.2,314.6 336.5,306.1 336.8,296.3 337.1,288.2 337.4,285.1 337.8,288.2 338.1,296.3 338.4,306.1 338.7,314.6 339.0,320.5 339.3,323.7 339.6,321.7 339.9,321.7 340.2,322.6 340.6,321.1 340.9,316.2 341.2,311.8 341.5,312.7 341.8,304.0 342.1,294.8 342.4,288.4 342.7,287.4 343.1,292.2 343.4,300.8 343.7,310.0 344.0,317.3 344.3,322.0 344.6,321.9 344.9,320.8 345.2,320.4 345.5,322.2 345.9,321.3 346.2,317.3 346.5,312.3 346.8,307.7 347.1,305.1 347.4,305.6 347.7,309.1 348.0,314.0 348.4,318.8 348.7,322.3 349.0,321.7 349.3,318.7 349.6,318.2 349.9,320.6 350.2,321.7 350.5,316.1 350.8,306.6 351.2,293.9 351.5,280.6 351.8,271.2 352.1,269.7 352.4,276.8 352.7,289.3 353.0,302.7 353.3,313.4 353.7,312.3 354.0,311.2 354.3,311.7 354.6,300.9 354.9,288.6 355.2,278.5 355.5,274.5 355.8,278.5 356.1,288.6 356.5,300.9 356.8,311.7 357.1,319.0 357.4,322.1 357.7,317.2 358.0,308.9 358.3,297.6 358.6,285.8 359.0,277.6 359.3,276.3 359.6,282.5 359.9,293.6 360.2,305.4 360.5,314.8 360.8,315.6 361.1,314.8 361.4,314.2 361.8,304.3 362.1,291.8 362.4,280.2 362.7,273.7 363.0,275.0 363.3,283.7 363.6,296.1 363.9,308.0 364.3,314.8 364.6,320.3 364.9,321.9 365.2,323.2 365.5,321.5 365.8,323.9 366.1,323.6 366.4,320.5 366.7,318.0 367.1,315.1 367.4,309.7 367.7,305.3 368.0,303.6 368.3,305.3 368.6,309.7 368.9,315.1 369.2,319.4 369.5,314.9 369.9,314.1 370.2,317.8 370.5,321.2 370.8,315.1 371.1,310.2 371.4,311.4 371.7,317.3 372.0,317.0 372.4,311.1 372.7,304.9 373.0,300.5 373.3,299.8 373.6,303.1 373.9,308.9 374.2,315.1 374.5,320.1 374.8,322.2 375.2,321.1 375.5,318.9 375.8,319.4 376.1,322.0 376.4,323.1 376.7,321.7 377.0,321.2 377.3,323.3 377.7,321.9 378.0,317.6 378.3,311.2 378.6,304.0 378.9,298.0 379.2,295.6 379.5,298.0 379.8,304.0 380.1,311.2 380.5,316.5 380.8,317.2 381.1,320.8 381.4,320.8 381.7,315.8 382.0,313.3 382.3,313.7 382.6,300.7 383.0,281.7 383.3,259.9 383.6,241.9 383.9,234.9 384.2,241.9 384.5,259.9 384.8,281.7 385.1,300.7 385.4,304.0 385.8,287.4 386.1,268.5 386.4,252.9 386.7,246.8 387.0,252.9 387.3,268.5 387.6,287.4 387.9,301.0 388.3,286.7 388.6,273.3 388.9,265.8 389.2,267.4 389.5,277.4 389.8,291.6 390.1,305.3 390.4,315.4 390.7,309.8 391.1,299.1 391.4,287.9 391.7,280.1 392.0,278.9 392.3,284.8 392.6,295.3 392.9,306.5 393.2,315.4 393.6,319.1 393.9,312.5 394.2,303.6 394.5,294.3 394.8,287.8 395.1,286.8 395.4,291.6 395.7,300.4 396.0,309.7 396.4,317.2 396.7,319.9 397.0,314.1 397.3,311.2 397.6,314.1 397.9,318.7 398.2,313.1 398.5,306.8 398.8,301.6 399.2,299.6 399.5,301.6 399.8,306.8 400.1,313.1 400.4,318.7 400.7,322.4 401.0,323.5 401.3,321.1 401.7,319.6 402.0,313.6 402.3,310.5 402.6,310.0 402.9,298.1 403.2,284.3 403.5,273.0 403.8,268.6 404.1,273.0 404.5,284.3 404.8,298.1 405.1,310.0 405.4,318.2 405.7,316.4 406.0,306.2 406.3,291.3 406.6,274.2 407.0,260.2 407.3,254.7 407.6,260.2 407.9,274.2 408.2,291.3 408.5,306.2 408.8,310.3 409.1,297.0 409.4,280.3 409.8,264.7 410.1,256.0 410.4,257.8 410.7,269.5 411.0,286.0 411.3,301.9 411.6,305.9 411.9,294.4 412.3,283.6 412.6,277.6 412.9,278.9 413.2,286.9 413.5,298.3 413.8,309.3 414.1,311.4 414.4,315.9 414.7,309.7 415.1,300.4 415.4,291.6 415.7,286.8 416.0,287.8 416.3,294.3 416.6,303.6 416.9,312.5 417.2,311.1 417.6,307.4 417.9,311.1 418.2,318.3 418.5,322.9 418.8,321.1 419.1,321.3 419.4,322.1 419.7,318.4 420.0,316.5 420.4,318.4 420.7,322.1 421.0,322.0 421.3,322.5 421.6,322.3 421.9,321.1 422.2,316.5 422.5,314.1 422.9,316.5 423.2,321.1 423.5,322.1 423.8,319.2 424.1,313.5 424.4,306.4 424.7,299.7 425.0,295.9 425.3,296.7 425.7,301.7 426.0,308.8 426.3,315.6 426.6,316.2 426.9,315.5 427.2,318.7 427.5,321.1 427.8,321.4 428.1,321.4 428.5,319.7 428.8,316.8 429.1,317.5 429.4,315.1 429.7,309.7 430.0,305.3 430.3,303.6 430.6,305.3 431.0,309.7 431.3,315.1 431.6,319.8 431.9,317.5 432.2,311.7 432.5,310.6 432.8,315.4 433.1,321.3 433.4,320.9 433.8,323.9 434.1,322.1 434.4,318.8 434.7,314.0 435.0,309.1 435.3,305.6 435.6,305.1 435.9,307.7 436.3,312.3 436.6,317.3 436.9,321.3 437.2,321.4 437.5,321.1 437.8,322.3 438.1,322.3 438.4,323.7 438.7,321.4 439.1,321.7 439.4,323.1 439.7,321.1 440.0,320.8 440.3,320.9 440.6,321.8 440.9,319.0 441.2,315.9 441.6,316.6" fill="none" stroke="#2d409c" stroke-width="1.05" stroke-linejoin="round"/>
<text x="194.8" y="231.5" font-size="7.5" fill="#c52f2f" textLength="24.8" lengthAdjust="spacingAndGlyphs" letter-spacing="1">light</text>
<text x="236.5" y="231.5" font-size="7.5" fill="#c52f2f" textLength="36.8" lengthAdjust="spacingAndGlyphs" letter-spacing="1">heavy</text>
<text x="97.5" y="287.6" font-size="4.6" fill="#444" textLength="25.5" lengthAdjust="spacingAndGlyphs">866.3767</text>
<text x="111.0" y="299.1" font-size="4.6" fill="#444" textLength="25.5" lengthAdjust="spacingAndGlyphs">869.4012</text>
<text x="143.5" y="300.6" font-size="4.6" fill="#444" textLength="25.5" lengthAdjust="spacingAndGlyphs">874.3801</text>
<text x="148.5" y="309.1" font-size="4.6" fill="#444" textLength="25.5" lengthAdjust="spacingAndGlyphs">872.9353</text>
<text x="173.5" y="300.6" font-size="4.6" fill="#444" textLength="25.5" lengthAdjust="spacingAndGlyphs">875.3745</text>
<text x="170.0" y="255.1" font-size="4.6" fill="#444" textLength="25.5" lengthAdjust="spacingAndGlyphs">876.9536</text>
<text x="195.0" y="247.6" font-size="4.6" fill="#444" textLength="25.5" lengthAdjust="spacingAndGlyphs">877.4524</text>
<text x="218.5" y="280.6" font-size="4.6" fill="#444" textLength="25.5" lengthAdjust="spacingAndGlyphs">877.9565</text>
<text x="255.0" y="237.6" font-size="4.6" fill="#444" textLength="25.5" lengthAdjust="spacingAndGlyphs">881.4741</text>
<text x="260.5" y="247.6" font-size="4.6" fill="#444" textLength="25.5" lengthAdjust="spacingAndGlyphs">881.9743</text>
<text x="265.0" y="270.1" font-size="4.6" fill="#444" textLength="25.5" lengthAdjust="spacingAndGlyphs">882.4661</text>
<text x="267.5" y="290.6" font-size="4.6" fill="#444" textLength="25.5" lengthAdjust="spacingAndGlyphs">884.4289</text>
<text x="297.5" y="298.1" font-size="4.6" fill="#444" textLength="25.5" lengthAdjust="spacingAndGlyphs">887.3945</text>
<text x="324.0" y="280.1" font-size="4.6" fill="#444" textLength="25.5" lengthAdjust="spacingAndGlyphs">891.7325</text>
<text x="340.0" y="267.6" font-size="4.6" fill="#444" textLength="25.5" lengthAdjust="spacingAndGlyphs">891.4005</text>
<text x="388.8" y="241.1" font-size="4.6" fill="#444" textLength="25.5" lengthAdjust="spacingAndGlyphs">894.4258</text>
<text x="395.0" y="247.5" font-size="4.6" fill="#444" textLength="25.5" lengthAdjust="spacingAndGlyphs">894.7202</text>
<text x="398.0" y="252.8" font-size="4.6" fill="#444" textLength="25.5" lengthAdjust="spacingAndGlyphs">896.9378</text>
<text x="412.5" y="261.6" font-size="4.6" fill="#444" textLength="25.5" lengthAdjust="spacingAndGlyphs">896.6956</text>
<text x="412.5" y="271.6" font-size="4.6" fill="#444" textLength="25.5" lengthAdjust="spacingAndGlyphs">896.4353</text>
<text x="409.0" y="278.1" font-size="4.6" fill="#444" textLength="25.5" lengthAdjust="spacingAndGlyphs">895.4267</text>
<line x1="78.8" y1="349.0" x2="78.8" y2="461.0" stroke="#222" stroke-width="0.9" />
<line x1="78.8" y1="461.0" x2="432.0" y2="461.0" stroke="#222" stroke-width="0.9" />
<line x1="77.0" y1="461.0" x2="78.8" y2="461.0" stroke="#222" stroke-width="0.7" />
<text x="76.0" y="463.0" font-size="5.5" fill="#222" text-anchor="end">0</text>
<line x1="77.0" y1="439.1" x2="78.8" y2="439.1" stroke="#222" stroke-width="0.7" />
<text x="76.0" y="441.1" font-size="5.5" fill="#222" text-anchor="end">5</text>
<line x1="77.0" y1="417.2" x2="78.8" y2="417.2" stroke="#222" stroke-width="0.7" />
<text x="76.0" y="419.2" font-size="5.5" fill="#222" text-anchor="end">10</text>
<line x1="77.0" y1="395.3" x2="78.8" y2="395.3" stroke="#222" stroke-width="0.7" />
<text x="76.0" y="397.3" font-size="5.5" fill="#222" text-anchor="end">15</text>
<line x1="77.0" y1="373.4" x2="78.8" y2="373.4" stroke="#222" stroke-width="0.7" />
<text x="76.0" y="375.4" font-size="5.5" fill="#222" text-anchor="end">20</text>
<line x1="77.0" y1="351.5" x2="78.8" y2="351.5" stroke="#222" stroke-width="0.7" />
<text x="76.0" y="353.5" font-size="5.5" fill="#222" text-anchor="end">25</text>
<text transform="translate(66.5,406.0) rotate(-90)" text-anchor="middle" font-size="5" textLength="20.0" lengthAdjust="spacingAndGlyphs">Intensity</text>
<line x1="112.1" y1="461.0" x2="112.1" y2="463.5" stroke="#222" stroke-width="0.7" />
<text x="112.1" y="469.5" font-size="5.8" fill="#333" text-anchor="middle">200</text>
<line x1="154.4" y1="461.0" x2="154.4" y2="463.5" stroke="#222" stroke-width="0.7" />
<text x="154.4" y="469.5" font-size="5.8" fill="#333" text-anchor="middle">400</text>
<line x1="196.8" y1="461.0" x2="196.8" y2="463.5" stroke="#222" stroke-width="0.7" />
<text x="196.8" y="469.5" font-size="5.8" fill="#333" text-anchor="middle">600</text>
<line x1="239.1" y1="461.0" x2="239.1" y2="463.5" stroke="#222" stroke-width="0.7" />
<text x="239.1" y="469.5" font-size="5.8" fill="#333" text-anchor="middle">800</text>
<line x1="281.5" y1="461.0" x2="281.5" y2="463.5" stroke="#222" stroke-width="0.7" />
<text x="281.5" y="469.5" font-size="5.8" fill="#333" text-anchor="middle">1000</text>
<line x1="323.9" y1="461.0" x2="323.9" y2="463.5" stroke="#222" stroke-width="0.7" />
<text x="323.9" y="469.5" font-size="5.8" fill="#333" text-anchor="middle">1200</text>
<line x1="366.2" y1="461.0" x2="366.2" y2="463.5" stroke="#222" stroke-width="0.7" />
<text x="366.2" y="469.5" font-size="5.8" fill="#333" text-anchor="middle">1400</text>
<line x1="408.6" y1="461.0" x2="408.6" y2="463.5" stroke="#222" stroke-width="0.7" />
<text x="408.6" y="469.5" font-size="5.8" fill="#333" text-anchor="middle">1600</text>
<line x1="90.9" y1="461.0" x2="90.9" y2="462.5" stroke="#222" stroke-width="0.5" />
<line x1="133.2" y1="461.0" x2="133.2" y2="462.5" stroke="#222" stroke-width="0.5" />
<line x1="175.6" y1="461.0" x2="175.6" y2="462.5" stroke="#222" stroke-width="0.5" />
<line x1="218.0" y1="461.0" x2="218.0" y2="462.5" stroke="#222" stroke-width="0.5" />
<line x1="260.3" y1="461.0" x2="260.3" y2="462.5" stroke="#222" stroke-width="0.5" />
<line x1="302.7" y1="461.0" x2="302.7" y2="462.5" stroke="#222" stroke-width="0.5" />
<line x1="345.0" y1="461.0" x2="345.0" y2="462.5" stroke="#222" stroke-width="0.5" />
<line x1="387.4" y1="461.0" x2="387.4" y2="462.5" stroke="#222" stroke-width="0.5" />
<line x1="429.8" y1="461.0" x2="429.8" y2="462.5" stroke="#222" stroke-width="0.5" />
<text x="255.6" y="475.5" font-size="5.5" fill="#333" textLength="16.5" lengthAdjust="spacingAndGlyphs">m/z, Da</text>
<line x1="94.0" y1="350.0" x2="94.0" y2="461.0" stroke="#d8a0a0" stroke-width="0.8" />
<line x1="122.3" y1="350.0" x2="122.3" y2="461.0" stroke="#d14040" stroke-width="0.75" />
<line x1="142.7" y1="350.0" x2="142.7" y2="461.0" stroke="#d14040" stroke-width="0.75" />
<line x1="167.5" y1="350.0" x2="167.5" y2="461.0" stroke="#d14040" stroke-width="0.75" />
<line x1="195.0" y1="350.0" x2="195.0" y2="461.0" stroke="#d14040" stroke-width="0.75" />
<line x1="218.7" y1="350.0" x2="218.7" y2="461.0" stroke="#d14040" stroke-width="0.75" />
<line x1="234.0" y1="350.0" x2="234.0" y2="461.0" stroke="#d14040" stroke-width="0.75" />
<line x1="306.0" y1="350.0" x2="306.0" y2="461.0" stroke="#d14040" stroke-width="0.75" />
<line x1="331.0" y1="350.0" x2="331.0" y2="461.0" stroke="#d14040" stroke-width="0.75" />
<line x1="352.5" y1="350.0" x2="352.5" y2="461.0" stroke="#d14040" stroke-width="0.75" />
<line x1="107.5" y1="350.0" x2="107.5" y2="461.0" stroke="#8a93b8" stroke-width="0.8" />
<line x1="118.0" y1="350.0" x2="118.0" y2="461.0" stroke="#26357f" stroke-width="1.0" />
<line x1="144.0" y1="350.0" x2="144.0" y2="461.0" stroke="#26357f" stroke-width="1.0" />
<line x1="163.7" y1="352.0" x2="163.7" y2="461.0" stroke="#6b8f6b" stroke-width="0.7" />
<line x1="88.3" y1="364.6" x2="88.3" y2="461.0" stroke="#3a4ca6" stroke-width="0.9" />
<line x1="112.0" y1="377.8" x2="112.0" y2="461.0" stroke="#3a4ca6" stroke-width="0.9" />
<line x1="115.6" y1="408.4" x2="115.6" y2="461.0" stroke="#3a4ca6" stroke-width="0.9" />
<line x1="124.4" y1="395.3" x2="124.4" y2="461.0" stroke="#3a4ca6" stroke-width="0.9" />
<line x1="128.7" y1="404.1" x2="128.7" y2="461.0" stroke="#3a4ca6" stroke-width="0.9" />
<line x1="108.0" y1="430.3" x2="108.0" y2="461.0" stroke="#3a4ca6" stroke-width="0.9" />
<line x1="99.5" y1="439.1" x2="99.5" y2="461.0" stroke="#3a4ca6" stroke-width="0.9" />
<line x1="84.0" y1="439.1" x2="84.0" y2="461.0" stroke="#3a4ca6" stroke-width="0.9" />
<line x1="131.5" y1="434.7" x2="131.5" y2="461.0" stroke="#3a4ca6" stroke-width="0.9" />
<line x1="135.0" y1="434.7" x2="135.0" y2="461.0" stroke="#3a4ca6" stroke-width="0.9" />
<line x1="141.0" y1="439.1" x2="141.0" y2="461.0" stroke="#3a4ca6" stroke-width="0.9" />
<line x1="144.0" y1="366.8" x2="144.0" y2="461.0" stroke="#3a4ca6" stroke-width="0.9" />
<line x1="166.6" y1="433.4" x2="166.6" y2="461.0" stroke="#3a4ca6" stroke-width="0.9" />
<line x1="165.0" y1="443.5" x2="165.0" y2="461.0" stroke="#3a4ca6" stroke-width="0.9" />
<line x1="234.0" y1="442.2" x2="234.0" y2="461.0" stroke="#3a4ca6" stroke-width="0.9" />
<line x1="352.5" y1="440.0" x2="352.5" y2="461.0" stroke="#3a4ca6" stroke-width="0.9" />
<line x1="193.7" y1="447.9" x2="193.7" y2="461.0" stroke="#3a4ca6" stroke-width="0.9" />
<line x1="217.6" y1="447.9" x2="217.6" y2="461.0" stroke="#3a4ca6" stroke-width="0.9" />
<line x1="190.0" y1="450.1" x2="190.0" y2="461.0" stroke="#3a4ca6" stroke-width="0.9" />
<line x1="198.0" y1="450.1" x2="198.0" y2="461.0" stroke="#3a4ca6" stroke-width="0.9" />
<line x1="80.0" y1="456.6" x2="80.0" y2="461.0" stroke="#8f9dd6" stroke-width="0.9" />
<line x1="81.0" y1="456.6" x2="81.0" y2="461.0" stroke="#8f9dd6" stroke-width="0.9" />
<line x1="82.9" y1="450.1" x2="82.9" y2="461.0" stroke="#2e3f9c" stroke-width="0.9" />
<line x1="84.1" y1="452.2" x2="84.1" y2="461.0" stroke="#2e3f9c" stroke-width="0.9" />
<line x1="85.3" y1="456.6" x2="85.3" y2="461.0" stroke="#2e3f9c" stroke-width="0.9" />
<line x1="86.5" y1="452.2" x2="86.5" y2="461.0" stroke="#2e3f9c" stroke-width="0.9" />
<line x1="88.0" y1="447.9" x2="88.0" y2="461.0" stroke="#8f9dd6" stroke-width="0.9" />
<line x1="89.9" y1="454.4" x2="89.9" y2="461.0" stroke="#2e3f9c" stroke-width="0.9" />
<line x1="90.9" y1="456.6" x2="90.9" y2="461.0" stroke="#2e3f9c" stroke-width="0.9" />
<line x1="92.8" y1="450.1" x2="92.8" y2="461.0" stroke="#2e3f9c" stroke-width="0.9" />
<line x1="94.3" y1="456.6" x2="94.3" y2="461.0" stroke="#8f9dd6" stroke-width="0.9" />
<line x1="96.2" y1="454.4" x2="96.2" y2="461.0" stroke="#8f9dd6" stroke-width="0.9" />
<line x1="97.2" y1="443.5" x2="97.2" y2="461.0" stroke="#8f9dd6" stroke-width="0.9" />
<line x1="99.1" y1="443.5" x2="99.1" y2="461.0" stroke="#8f9dd6" stroke-width="0.9" />
<line x1="101.0" y1="454.4" x2="101.0" y2="461.0" stroke="#2e3f9c" stroke-width="0.9" />
<line x1="102.2" y1="439.1" x2="102.2" y2="461.0" stroke="#2e3f9c" stroke-width="0.9" />
<line x1="104.1" y1="456.6" x2="104.1" y2="461.0" stroke="#2e3f9c" stroke-width="0.9" />
<line x1="105.3" y1="450.1" x2="105.3" y2="461.0" stroke="#5566b4" stroke-width="0.9" />
<line x1="107.2" y1="456.6" x2="107.2" y2="461.0" stroke="#5566b4" stroke-width="0.9" />
<line x1="108.7" y1="456.6" x2="108.7" y2="461.0" stroke="#8f9dd6" stroke-width="0.9" />
<line x1="110.2" y1="452.2" x2="110.2" y2="461.0" stroke="#2e3f9c" stroke-width="0.9" />
<line x1="111.4" y1="454.4" x2="111.4" y2="461.0" stroke="#8f9dd6" stroke-width="0.9" />
<line x1="112.9" y1="443.5" x2="112.9" y2="461.0" stroke="#8f9dd6" stroke-width="0.9" />
<line x1="114.1" y1="447.9" x2="114.1" y2="461.0" stroke="#2e3f9c" stroke-width="0.9" />
<line x1="115.3" y1="452.2" x2="115.3" y2="461.0" stroke="#2e3f9c" stroke-width="0.9" />
<line x1="116.8" y1="456.6" x2="116.8" y2="461.0" stroke="#2e3f9c" stroke-width="0.9" />
<line x1="118.7" y1="443.5" x2="118.7" y2="461.0" stroke="#5566b4" stroke-width="0.9" />
<line x1="119.7" y1="454.4" x2="119.7" y2="461.0" stroke="#5566b4" stroke-width="0.9" />
<line x1="120.9" y1="452.2" x2="120.9" y2="461.0" stroke="#2e3f9c" stroke-width="0.9" />
<line x1="121.9" y1="447.9" x2="121.9" y2="461.0" stroke="#2e3f9c" stroke-width="0.9" />
<line x1="123.1" y1="454.4" x2="123.1" y2="461.0" stroke="#8f9dd6" stroke-width="0.9" />
<line x1="124.1" y1="443.5" x2="124.1" y2="461.0" stroke="#8f9dd6" stroke-width="0.9" />
<line x1="125.1" y1="450.1" x2="125.1" y2="461.0" stroke="#8f9dd6" stroke-width="0.9" />
<line x1="126.3" y1="452.2" x2="126.3" y2="461.0" stroke="#5566b4" stroke-width="0.9" />
<line x1="128.2" y1="456.6" x2="128.2" y2="461.0" stroke="#2e3f9c" stroke-width="0.9" />
<line x1="129.7" y1="456.6" x2="129.7" y2="461.0" stroke="#2e3f9c" stroke-width="0.9" />
<line x1="131.2" y1="452.2" x2="131.2" y2="461.0" stroke="#8f9dd6" stroke-width="0.9" />
<line x1="132.4" y1="439.1" x2="132.4" y2="461.0" stroke="#5566b4" stroke-width="0.9" />
<line x1="133.6" y1="456.6" x2="133.6" y2="461.0" stroke="#2e3f9c" stroke-width="0.9" />
<line x1="134.8" y1="452.2" x2="134.8" y2="461.0" stroke="#2e3f9c" stroke-width="0.9" />
<line x1="136.0" y1="456.6" x2="136.0" y2="461.0" stroke="#2e3f9c" stroke-width="0.9" />
<line x1="137.2" y1="443.5" x2="137.2" y2="461.0" stroke="#5566b4" stroke-width="0.9" />
<line x1="139.1" y1="456.6" x2="139.1" y2="461.0" stroke="#2e3f9c" stroke-width="0.9" />
<line x1="140.6" y1="439.1" x2="140.6" y2="461.0" stroke="#8f9dd6" stroke-width="0.9" />
<line x1="142.1" y1="439.1" x2="142.1" y2="461.0" stroke="#8f9dd6" stroke-width="0.9" />
<line x1="143.3" y1="447.9" x2="143.3" y2="461.0" stroke="#8f9dd6" stroke-width="0.9" />
<line x1="144.3" y1="443.5" x2="144.3" y2="461.0" stroke="#5566b4" stroke-width="0.9" />
<line x1="145.5" y1="456.6" x2="145.5" y2="461.0" stroke="#2e3f9c" stroke-width="0.9" />
<line x1="146.5" y1="456.6" x2="146.5" y2="461.0" stroke="#2e3f9c" stroke-width="0.9" />
<line x1="148.0" y1="447.9" x2="148.0" y2="461.0" stroke="#2e3f9c" stroke-width="0.9" />
<line x1="149.5" y1="456.6" x2="149.5" y2="461.0" stroke="#2e3f9c" stroke-width="0.9" />
<line x1="150.7" y1="456.6" x2="150.7" y2="461.0" stroke="#5566b4" stroke-width="0.9" />
<line x1="152.6" y1="452.2" x2="152.6" y2="461.0" stroke="#2e3f9c" stroke-width="0.9" />
<line x1="154.5" y1="452.2" x2="154.5" y2="461.0" stroke="#2e3f9c" stroke-width="0.9" />
<line x1="156.4" y1="452.2" x2="156.4" y2="461.0" stroke="#2e3f9c" stroke-width="0.9" />
<line x1="158.3" y1="454.4" x2="158.3" y2="461.0" stroke="#8f9dd6" stroke-width="0.9" />
<line x1="160.2" y1="456.6" x2="160.2" y2="461.0" stroke="#2e3f9c" stroke-width="0.9" />
<line x1="161.4" y1="456.6" x2="161.4" y2="461.0" stroke="#2e3f9c" stroke-width="0.9" />
<line x1="163.3" y1="450.1" x2="163.3" y2="461.0" stroke="#8f9dd6" stroke-width="0.9" />
<line x1="164.3" y1="456.6" x2="164.3" y2="461.0" stroke="#5566b4" stroke-width="0.9" />
<line x1="165.3" y1="452.2" x2="165.3" y2="461.0" stroke="#2e3f9c" stroke-width="0.9" />
<line x1="166.5" y1="454.4" x2="166.5" y2="461.0" stroke="#5566b4" stroke-width="0.9" />
<line x1="168.4" y1="452.2" x2="168.4" y2="461.0" stroke="#8f9dd6" stroke-width="0.9" />
<line x1="169.6" y1="456.6" x2="169.6" y2="461.0" stroke="#8f9dd6" stroke-width="0.9" />
<line x1="170.6" y1="456.2" x2="170.6" y2="461.0" stroke="#8f9dd6" stroke-width="0.9" />
<line x1="171.8" y1="457.5" x2="171.8" y2="461.0" stroke="#8f9dd6" stroke-width="0.9" />
<line x1="173.7" y1="456.6" x2="173.7" y2="461.0" stroke="#2e3f9c" stroke-width="0.9" />
<line x1="174.9" y1="457.5" x2="174.9" y2="461.0" stroke="#2e3f9c" stroke-width="0.9" />
<line x1="175.9" y1="456.6" x2="175.9" y2="461.0" stroke="#8f9dd6" stroke-width="0.9" />
<line x1="177.4" y1="456.2" x2="177.4" y2="461.0" stroke="#5566b4" stroke-width="0.9" />
<line x1="178.4" y1="456.2" x2="178.4" y2="461.0" stroke="#8f9dd6" stroke-width="0.9" />
<line x1="179.6" y1="454.4" x2="179.6" y2="461.0" stroke="#2e3f9c" stroke-width="0.9" />
<line x1="181.1" y1="456.2" x2="181.1" y2="461.0" stroke="#8f9dd6" stroke-width="0.9" />
<line x1="182.3" y1="452.2" x2="182.3" y2="461.0" stroke="#2e3f9c" stroke-width="0.9" />
<line x1="183.5" y1="456.6" x2="183.5" y2="461.0" stroke="#2e3f9c" stroke-width="0.9" />
<line x1="185.0" y1="456.6" x2="185.0" y2="461.0" stroke="#5566b4" stroke-width="0.9" />
<line x1="186.5" y1="457.5" x2="186.5" y2="461.0" stroke="#2e3f9c" stroke-width="0.9" />
<line x1="187.7" y1="456.6" x2="187.7" y2="461.0" stroke="#5566b4" stroke-width="0.9" />
<line x1="189.6" y1="456.6" x2="189.6" y2="461.0" stroke="#8f9dd6" stroke-width="0.9" />
<line x1="190.6" y1="452.2" x2="190.6" y2="461.0" stroke="#2e3f9c" stroke-width="0.9" />
<line x1="191.8" y1="457.5" x2="191.8" y2="461.0" stroke="#5566b4" stroke-width="0.9" />
<line x1="193.7" y1="452.2" x2="193.7" y2="461.0" stroke="#5566b4" stroke-width="0.9" />
<line x1="194.9" y1="455.7" x2="194.9" y2="461.0" stroke="#8f9dd6" stroke-width="0.9" />
<line x1="195.9" y1="456.2" x2="195.9" y2="461.0" stroke="#2e3f9c" stroke-width="0.9" />
<line x1="197.1" y1="456.2" x2="197.1" y2="461.0" stroke="#2e3f9c" stroke-width="0.9" />
<line x1="198.1" y1="456.6" x2="198.1" y2="461.0" stroke="#5566b4" stroke-width="0.9" />
<line x1="199.1" y1="456.6" x2="199.1" y2="461.0" stroke="#2e3f9c" stroke-width="0.9" />
<line x1="200.6" y1="455.7" x2="200.6" y2="461.0" stroke="#2e3f9c" stroke-width="0.9" />
<line x1="201.6" y1="452.2" x2="201.6" y2="461.0" stroke="#2e3f9c" stroke-width="0.9" />
<line x1="203.5" y1="452.2" x2="203.5" y2="461.0" stroke="#5566b4" stroke-width="0.9" />
<line x1="205.4" y1="455.7" x2="205.4" y2="461.0" stroke="#8f9dd6" stroke-width="0.9" />
<line x1="206.6" y1="456.6" x2="206.6" y2="461.0" stroke="#8f9dd6" stroke-width="0.9" />
<line x1="208.1" y1="452.2" x2="208.1" y2="461.0" stroke="#5566b4" stroke-width="0.9" />
<line x1="210.0" y1="456.6" x2="210.0" y2="461.0" stroke="#5566b4" stroke-width="0.9" />
<line x1="211.2" y1="452.2" x2="211.2" y2="461.0" stroke="#2e3f9c" stroke-width="0.9" />
<line x1="212.4" y1="457.5" x2="212.4" y2="461.0" stroke="#2e3f9c" stroke-width="0.9" />
<line x1="213.4" y1="456.6" x2="213.4" y2="461.0" stroke="#5566b4" stroke-width="0.9" />
<line x1="214.6" y1="456.6" x2="214.6" y2="461.0" stroke="#8f9dd6" stroke-width="0.9" />
<line x1="216.1" y1="452.2" x2="216.1" y2="461.0" stroke="#2e3f9c" stroke-width="0.9" />
<line x1="217.1" y1="456.2" x2="217.1" y2="461.0" stroke="#5566b4" stroke-width="0.9" />
<line x1="218.6" y1="457.5" x2="218.6" y2="461.0" stroke="#2e3f9c" stroke-width="0.9" />
<line x1="220.1" y1="455.7" x2="220.1" y2="461.0" stroke="#2e3f9c" stroke-width="0.9" />
<line x1="221.6" y1="454.4" x2="221.6" y2="461.0" stroke="#8f9dd6" stroke-width="0.9" />
<line x1="223.5" y1="456.2" x2="223.5" y2="461.0" stroke="#8f9dd6" stroke-width="0.9" />
<line x1="225.4" y1="454.4" x2="225.4" y2="461.0" stroke="#8f9dd6" stroke-width="0.9" />
<line x1="226.4" y1="454.4" x2="226.4" y2="461.0" stroke="#2e3f9c" stroke-width="0.9" />
<line x1="227.6" y1="454.4" x2="227.6" y2="461.0" stroke="#2e3f9c" stroke-width="0.9" />
<line x1="228.8" y1="455.7" x2="228.8" y2="461.0" stroke="#8f9dd6" stroke-width="0.9" />
<line x1="230.0" y1="452.2" x2="230.0" y2="461.0" stroke="#5566b4" stroke-width="0.9" />
<line x1="231.5" y1="456.6" x2="231.5" y2="461.0" stroke="#2e3f9c" stroke-width="0.9" />
<line x1="233.0" y1="457.5" x2="233.0" y2="461.0" stroke="#5566b4" stroke-width="0.9" />
<line x1="234.5" y1="456.6" x2="234.5" y2="461.0" stroke="#2e3f9c" stroke-width="0.9" />
<line x1="236.4" y1="456.6" x2="236.4" y2="461.0" stroke="#2e3f9c" stroke-width="0.9" />
<line x1="237.6" y1="457.5" x2="237.6" y2="461.0" stroke="#2e3f9c" stroke-width="0.9" />
<line x1="239.1" y1="456.6" x2="239.1" y2="461.0" stroke="#8f9dd6" stroke-width="0.9" />
<line x1="240.1" y1="455.7" x2="240.1" y2="461.0" stroke="#8f9dd6" stroke-width="0.9" />
<line x1="241.1" y1="452.2" x2="241.1" y2="461.0" stroke="#2e3f9c" stroke-width="0.9" />
<line x1="242.3" y1="456.6" x2="242.3" y2="461.0" stroke="#2e3f9c" stroke-width="0.9" />
<line x1="243.5" y1="456.6" x2="243.5" y2="461.0" stroke="#5566b4" stroke-width="0.9" />
<line x1="245.4" y1="454.4" x2="245.4" y2="461.0" stroke="#2e3f9c" stroke-width="0.9" />
<line x1="247.3" y1="456.6" x2="247.3" y2="461.0" stroke="#2e3f9c" stroke-width="0.9" />
<line x1="248.5" y1="455.7" x2="248.5" y2="461.0" stroke="#2e3f9c" stroke-width="0.9" />
<line x1="250.4" y1="454.4" x2="250.4" y2="461.0" stroke="#5566b4" stroke-width="0.9" />
<line x1="251.9" y1="454.4" x2="251.9" y2="461.0" stroke="#2e3f9c" stroke-width="0.9" />
<line x1="253.4" y1="454.4" x2="253.4" y2="461.0" stroke="#2e3f9c" stroke-width="0.9" />
<line x1="254.9" y1="456.6" x2="254.9" y2="461.0" stroke="#2e3f9c" stroke-width="0.9" />
<line x1="256.4" y1="456.6" x2="256.4" y2="461.0" stroke="#2e3f9c" stroke-width="0.9" />
<line x1="257.6" y1="455.7" x2="257.6" y2="461.0" stroke="#5566b4" stroke-width="0.9" />
<line x1="259.5" y1="456.6" x2="259.5" y2="461.0" stroke="#5566b4" stroke-width="0.9" />
<line x1="260.7" y1="456.6" x2="260.7" y2="461.0" stroke="#8f9dd6" stroke-width="0.9" />
<line x1="261.7" y1="456.6" x2="261.7" y2="461.0" stroke="#8f9dd6" stroke-width="0.9" />
<line x1="263.2" y1="454.4" x2="263.2" y2="461.0" stroke="#5566b4" stroke-width="0.9" />
<line x1="264.4" y1="457.5" x2="264.4" y2="461.0" stroke="#2e3f9c" stroke-width="0.9" />
<line x1="265.6" y1="456.6" x2="265.6" y2="461.0" stroke="#2e3f9c" stroke-width="0.9" />
<line x1="269.1" y1="452.2" x2="269.1" y2="461.0" stroke="#5566b4" stroke-width="0.9" />
<line x1="272.6" y1="456.2" x2="272.6" y2="461.0" stroke="#2e3f9c" stroke-width="0.9" />
<line x1="276.1" y1="454.4" x2="276.1" y2="461.0" stroke="#2e3f9c" stroke-width="0.9" />
<line x1="279.6" y1="456.6" x2="279.6" y2="461.0" stroke="#2e3f9c" stroke-width="0.9" />
<line x1="281.1" y1="456.2" x2="281.1" y2="461.0" stroke="#2e3f9c" stroke-width="0.9" />
<line x1="283.6" y1="456.6" x2="283.6" y2="461.0" stroke="#2e3f9c" stroke-width="0.9" />
<line x1="285.1" y1="457.5" x2="285.1" y2="461.0" stroke="#2e3f9c" stroke-width="0.9" />
<line x1="287.6" y1="456.6" x2="287.6" y2="461.0" stroke="#2e3f9c" stroke-width="0.9" />
<line x1="290.1" y1="455.7" x2="290.1" y2="461.0" stroke="#2e3f9c" stroke-width="0.9" />
<line x1="292.6" y1="457.9" x2="292.6" y2="461.0" stroke="#3a4ca6" stroke-width="0.7" />
<line x1="294.6" y1="456.2" x2="294.6" y2="461.0" stroke="#3a4ca6" stroke-width="0.7" />
<line x1="302.6" y1="456.2" x2="302.6" y2="461.0" stroke="#3a4ca6" stroke-width="0.7" />
<line x1="305.6" y1="456.2" x2="305.6" y2="461.0" stroke="#3a4ca6" stroke-width="0.7" />
<line x1="310.1" y1="457.1" x2="310.1" y2="461.0" stroke="#3a4ca6" stroke-width="0.7" />
<line x1="313.1" y1="457.9" x2="313.1" y2="461.0" stroke="#3a4ca6" stroke-width="0.7" />
<line x1="315.1" y1="457.1" x2="315.1" y2="461.0" stroke="#3a4ca6" stroke-width="0.7" />
<line x1="318.1" y1="457.9" x2="318.1" y2="461.0" stroke="#3a4ca6" stroke-width="0.7" />
<line x1="322.6" y1="456.2" x2="322.6" y2="461.0" stroke="#3a4ca6" stroke-width="0.7" />
<line x1="328.6" y1="456.2" x2="328.6" y2="461.0" stroke="#3a4ca6" stroke-width="0.7" />
<line x1="331.6" y1="456.2" x2="331.6" y2="461.0" stroke="#3a4ca6" stroke-width="0.7" />
<line x1="334.6" y1="457.1" x2="334.6" y2="461.0" stroke="#3a4ca6" stroke-width="0.7" />
<line x1="336.6" y1="457.1" x2="336.6" y2="461.0" stroke="#3a4ca6" stroke-width="0.7" />
<line x1="344.6" y1="456.2" x2="344.6" y2="461.0" stroke="#3a4ca6" stroke-width="0.7" />
<line x1="346.6" y1="456.2" x2="346.6" y2="461.0" stroke="#3a4ca6" stroke-width="0.7" />
<line x1="349.6" y1="456.2" x2="349.6" y2="461.0" stroke="#3a4ca6" stroke-width="0.7" />
<line x1="352.6" y1="457.9" x2="352.6" y2="461.0" stroke="#3a4ca6" stroke-width="0.7" />
<line x1="360.6" y1="457.1" x2="360.6" y2="461.0" stroke="#3a4ca6" stroke-width="0.7" />
<line x1="366.6" y1="457.9" x2="366.6" y2="461.0" stroke="#3a4ca6" stroke-width="0.7" />
<line x1="374.6" y1="457.9" x2="374.6" y2="461.0" stroke="#3a4ca6" stroke-width="0.7" />
<line x1="380.6" y1="457.9" x2="380.6" y2="461.0" stroke="#3a4ca6" stroke-width="0.7" />
<line x1="386.6" y1="457.9" x2="386.6" y2="461.0" stroke="#3a4ca6" stroke-width="0.7" />
<line x1="389.6" y1="456.2" x2="389.6" y2="461.0" stroke="#3a4ca6" stroke-width="0.7" />
<line x1="392.6" y1="457.1" x2="392.6" y2="461.0" stroke="#3a4ca6" stroke-width="0.7" />
<text x="100.5" y="357.0" font-size="6" fill="#d14040">y1</text>
<text x="114.5" y="357.0" font-size="6" fill="#d14040">y2</text>
<text x="137.0" y="357.0" font-size="6" fill="#d14040">y3</text>
<text x="161.0" y="357.0" font-size="6" fill="#d14040">y4</text>
<text x="188.0" y="357.0" font-size="6" fill="#d14040">y5</text>
<text x="211.5" y="357.0" font-size="6" fill="#d14040">y6</text>
<text x="227.0" y="357.0" font-size="6" fill="#d14040">y7</text>
<text x="299.0" y="357.0" font-size="6" fill="#d14040">y8</text>
<text x="324.5" y="357.0" font-size="6" fill="#d14040">y9</text>
<text x="342.0" y="357.0" font-size="6" fill="#d14040" textLength="8.5" lengthAdjust="spacingAndGlyphs">y10</text>
<text x="86.5" y="363.5" font-size="5.5" fill="#3a9a5a">b1</text>
<text x="110.0" y="363.5" font-size="5.5" fill="#3a9a5a">b2</text>
<text x="134.0" y="363.5" font-size="5.5" fill="#3a9a5a">b3</text>
<text x="156.0" y="363.5" font-size="5.5" fill="#3a9a5a">b4</text>
<text x="94.0" y="371.0" font-size="5.8" fill="#222" textLength="21.0" lengthAdjust="spacingAndGlyphs">227.16 –</text>
<text x="145.0" y="371.0" font-size="5.8" fill="#222" textLength="21.0" lengthAdjust="spacingAndGlyphs">– 345.19</text>
<text x="118.0" y="380.0" font-size="5.8" fill="#222" textLength="24.0" lengthAdjust="spacingAndGlyphs">— 199.18</text>
<text x="128.5" y="389.0" font-size="5.8" fill="#222" textLength="17.0" lengthAdjust="spacingAndGlyphs">254.10</text>
<text x="134.0" y="399.0" font-size="5.8" fill="#222" textLength="17.0" lengthAdjust="spacingAndGlyphs">278.10</text>
<text x="124.5" y="433.0" font-size="5.8" fill="#222" textLength="17.0" lengthAdjust="spacingAndGlyphs">295.11</text>
<text x="159.0" y="428.5" font-size="5.8" fill="#222" textLength="17.0" lengthAdjust="spacingAndGlyphs">458.28</text>
<text x="157.0" y="441.5" font-size="5.8" fill="#222" textLength="17.0" lengthAdjust="spacingAndGlyphs">444.17</text>
<text x="187.0" y="437.5" font-size="5.8" fill="#222" textLength="16.5" lengthAdjust="spacingAndGlyphs">586.31</text>
<text x="210.6" y="437.5" font-size="5.8" fill="#222" textLength="16.5" lengthAdjust="spacingAndGlyphs">699.42</text>
<text x="239.4" y="437.0" font-size="5.8" fill="#222" textLength="16.5" lengthAdjust="spacingAndGlyphs">770.46</text>
<text x="183.0" y="446.0" font-size="5.8" fill="#222" textLength="16.5" lengthAdjust="spacingAndGlyphs">569.31</text>
<text x="203.0" y="446.5" font-size="5.8" fill="#222" textLength="16.5" lengthAdjust="spacingAndGlyphs">605.22</text>
<text x="240.8" y="449.5" font-size="5.8" fill="#222" textLength="16.5" lengthAdjust="spacingAndGlyphs">846.41</text>
<text x="273.0" y="450.5" font-size="5.8" fill="#222" textLength="19.5" lengthAdjust="spacingAndGlyphs">1069.62</text>
<text x="296.8" y="450.5" font-size="5.8" fill="#222" textLength="19.5" lengthAdjust="spacingAndGlyphs">1110.61</text>
<text x="320.8" y="450.5" font-size="5.8" fill="#222" textLength="19.5" lengthAdjust="spacingAndGlyphs">1223.66</text>
<text x="342.3" y="438.0" font-size="5.8" fill="#222" textLength="20.0" lengthAdjust="spacingAndGlyphs">1320.70</text>
<text x="369.4" y="450.5" font-size="5.8" fill="#222" textLength="19.5" lengthAdjust="spacingAndGlyphs">1378.01</text>
<text x="403.8" y="450.5" font-size="5.8" fill="#222" textLength="19.5" lengthAdjust="spacingAndGlyphs">1538.72</text>
<text x="381.5" y="386.0" font-size="17" textLength="76.0" lengthAdjust="spacingAndGlyphs">MSMS-CID</text>
<text x="369.0" y="398.5" font-size="13.2" textLength="109.5" lengthAdjust="spacingAndGlyphs">ILNTPNCALQIVAR</text>
<text x="90.0" y="500.0" font-size="17" textLength="92.5" lengthAdjust="spacingAndGlyphs">CXCL10/IP10</text>
<line x1="81.7" y1="515.5" x2="81.7" y2="603.5" stroke="#222" stroke-width="1" />
<line x1="81.7" y1="603.5" x2="484.0" y2="603.5" stroke="#222" stroke-width="1" />
<line x1="79.5" y1="602.5" x2="81.7" y2="602.5" stroke="#222" stroke-width="0.8" />
<text x="79.0" y="604.9" font-size="6.8" fill="#222" text-anchor="end">0</text>
<line x1="79.5" y1="585.7" x2="81.7" y2="585.7" stroke="#222" stroke-width="0.8" />
<text x="79.0" y="588.1" font-size="6.8" fill="#222" text-anchor="end">20</text>
<line x1="79.5" y1="568.9" x2="81.7" y2="568.9" stroke="#222" stroke-width="0.8" />
<text x="79.0" y="571.3" font-size="6.8" fill="#222" text-anchor="end">40</text>
<line x1="79.5" y1="552.1" x2="81.7" y2="552.1" stroke="#222" stroke-width="0.8" />
<text x="79.0" y="554.5" font-size="6.8" fill="#222" text-anchor="end">60</text>
<line x1="79.5" y1="535.3" x2="81.7" y2="535.3" stroke="#222" stroke-width="0.8" />
<text x="79.0" y="537.7" font-size="6.8" fill="#222" text-anchor="end">80</text>
<line x1="79.5" y1="518.5" x2="81.7" y2="518.5" stroke="#222" stroke-width="0.8" />
<text x="79.0" y="520.9" font-size="6.8" fill="#222" text-anchor="end">100</text>
<line x1="80.5" y1="594.1" x2="81.7" y2="594.1" stroke="#222" stroke-width="0.6" />
<line x1="80.5" y1="577.3" x2="81.7" y2="577.3" stroke="#222" stroke-width="0.6" />
<line x1="80.5" y1="560.5" x2="81.7" y2="560.5" stroke="#222" stroke-width="0.6" />
<line x1="80.5" y1="543.7" x2="81.7" y2="543.7" stroke="#222" stroke-width="0.6" />
<line x1="80.5" y1="526.9" x2="81.7" y2="526.9" stroke="#222" stroke-width="0.6" />
<text transform="translate(65.0,554.7) rotate(-90)" text-anchor="middle" font-size="8" textLength="25.0" lengthAdjust="spacingAndGlyphs">Counts</text>
<line x1="98.5" y1="603.5" x2="98.5" y2="606.0" stroke="#222" stroke-width="0.7" />
<text x="98.5" y="613.0" font-size="6.8" fill="#222" text-anchor="middle" textLength="11.5" lengthAdjust="spacingAndGlyphs">884</text>
<line x1="121.8" y1="603.5" x2="121.8" y2="606.0" stroke="#222" stroke-width="0.7" />
<text x="121.8" y="613.0" font-size="6.8" fill="#222" text-anchor="middle" textLength="11.5" lengthAdjust="spacingAndGlyphs">886</text>
<line x1="145.1" y1="603.5" x2="145.1" y2="606.0" stroke="#222" stroke-width="0.7" />
<text x="145.1" y="613.0" font-size="6.8" fill="#222" text-anchor="middle" textLength="11.5" lengthAdjust="spacingAndGlyphs">888</text>
<line x1="168.3" y1="603.5" x2="168.3" y2="606.0" stroke="#222" stroke-width="0.7" />
<text x="168.3" y="613.0" font-size="6.8" fill="#222" text-anchor="middle" textLength="11.5" lengthAdjust="spacingAndGlyphs">890</text>
<line x1="191.6" y1="603.5" x2="191.6" y2="606.0" stroke="#222" stroke-width="0.7" />
<text x="191.6" y="613.0" font-size="6.8" fill="#222" text-anchor="middle" textLength="11.5" lengthAdjust="spacingAndGlyphs">892</text>
<line x1="214.9" y1="603.5" x2="214.9" y2="606.0" stroke="#222" stroke-width="0.7" />
<text x="214.9" y="613.0" font-size="6.8" fill="#222" text-anchor="middle" textLength="11.5" lengthAdjust="spacingAndGlyphs">894</text>
<line x1="238.2" y1="603.5" x2="238.2" y2="606.0" stroke="#222" stroke-width="0.7" />
<text x="238.2" y="613.0" font-size="6.8" fill="#222" text-anchor="middle" textLength="11.5" lengthAdjust="spacingAndGlyphs">896</text>
<line x1="261.5" y1="603.5" x2="261.5" y2="606.0" stroke="#222" stroke-width="0.7" />
<text x="261.5" y="613.0" font-size="6.8" fill="#222" text-anchor="middle" textLength="11.5" lengthAdjust="spacingAndGlyphs">898</text>
<line x1="284.7" y1="603.5" x2="284.7" y2="606.0" stroke="#222" stroke-width="0.7" />
<text x="284.7" y="613.0" font-size="6.8" fill="#222" text-anchor="middle" textLength="11.5" lengthAdjust="spacingAndGlyphs">900</text>
<line x1="308.0" y1="603.5" x2="308.0" y2="606.0" stroke="#222" stroke-width="0.7" />
<text x="308.0" y="613.0" font-size="6.8" fill="#222" text-anchor="middle" textLength="11.5" lengthAdjust="spacingAndGlyphs">902</text>
<line x1="331.3" y1="603.5" x2="331.3" y2="606.0" stroke="#222" stroke-width="0.7" />
<text x="331.3" y="613.0" font-size="6.8" fill="#222" text-anchor="middle" textLength="11.5" lengthAdjust="spacingAndGlyphs">904</text>
<line x1="354.6" y1="603.5" x2="354.6" y2="606.0" stroke="#222" stroke-width="0.7" />
<text x="354.6" y="613.0" font-size="6.8" fill="#222" text-anchor="middle" textLength="11.5" lengthAdjust="spacingAndGlyphs">906</text>
<line x1="377.9" y1="603.5" x2="377.9" y2="606.0" stroke="#222" stroke-width="0.7" />
<text x="377.9" y="613.0" font-size="6.8" fill="#222" text-anchor="middle" textLength="11.5" lengthAdjust="spacingAndGlyphs">908</text>
<line x1="401.1" y1="603.5" x2="401.1" y2="606.0" stroke="#222" stroke-width="0.7" />
<text x="401.1" y="613.0" font-size="6.8" fill="#222" text-anchor="middle" textLength="11.5" lengthAdjust="spacingAndGlyphs">910</text>
<line x1="424.4" y1="603.5" x2="424.4" y2="606.0" stroke="#222" stroke-width="0.7" />
<text x="424.4" y="613.0" font-size="6.8" fill="#222" text-anchor="middle" textLength="11.5" lengthAdjust="spacingAndGlyphs">912</text>
<line x1="447.7" y1="603.5" x2="447.7" y2="606.0" stroke="#222" stroke-width="0.7" />
<text x="447.7" y="613.0" font-size="6.8" fill="#222" text-anchor="middle" textLength="11.5" lengthAdjust="spacingAndGlyphs">914</text>
<line x1="471.0" y1="603.5" x2="471.0" y2="606.0" stroke="#222" stroke-width="0.7" />
<text x="471.0" y="613.0" font-size="6.8" fill="#222" text-anchor="middle" textLength="11.5" lengthAdjust="spacingAndGlyphs">916</text>
<line x1="86.9" y1="603.5" x2="86.9" y2="605.0" stroke="#222" stroke-width="0.5" />
<line x1="110.1" y1="603.5" x2="110.1" y2="605.0" stroke="#222" stroke-width="0.5" />
<line x1="133.4" y1="603.5" x2="133.4" y2="605.0" stroke="#222" stroke-width="0.5" />
<line x1="156.7" y1="603.5" x2="156.7" y2="605.0" stroke="#222" stroke-width="0.5" />
<line x1="180.0" y1="603.5" x2="180.0" y2="605.0" stroke="#222" stroke-width="0.5" />
<line x1="203.3" y1="603.5" x2="203.3" y2="605.0" stroke="#222" stroke-width="0.5" />
<line x1="226.5" y1="603.5" x2="226.5" y2="605.0" stroke="#222" stroke-width="0.5" />
<line x1="249.8" y1="603.5" x2="249.8" y2="605.0" stroke="#222" stroke-width="0.5" />
<line x1="273.1" y1="603.5" x2="273.1" y2="605.0" stroke="#222" stroke-width="0.5" />
<line x1="296.4" y1="603.5" x2="296.4" y2="605.0" stroke="#222" stroke-width="0.5" />
<line x1="319.7" y1="603.5" x2="319.7" y2="605.0" stroke="#222" stroke-width="0.5" />
<line x1="342.9" y1="603.5" x2="342.9" y2="605.0" stroke="#222" stroke-width="0.5" />
<line x1="366.2" y1="603.5" x2="366.2" y2="605.0" stroke="#222" stroke-width="0.5" />
<line x1="389.5" y1="603.5" x2="389.5" y2="605.0" stroke="#222" stroke-width="0.5" />
<line x1="412.8" y1="603.5" x2="412.8" y2="605.0" stroke="#222" stroke-width="0.5" />
<line x1="436.1" y1="603.5" x2="436.1" y2="605.0" stroke="#222" stroke-width="0.5" />
<line x1="459.3" y1="603.5" x2="459.3" y2="605.0" stroke="#222" stroke-width="0.5" />
<line x1="482.6" y1="603.5" x2="482.6" y2="605.0" stroke="#222" stroke-width="0.5" />
<polygon points="81.6,603.0 81.6,599.2 82.0,599.8 82.3,600.3 82.7,599.5 83.0,601.1 83.4,600.5 83.7,597.8 84.1,596.3 84.4,597.8 84.8,600.4 85.1,600.6 85.5,601.2 85.8,600.0 86.2,601.2 86.5,599.5 86.9,600.0 87.2,600.4 87.6,599.8 87.9,599.8 88.3,598.8 88.6,600.4 89.0,599.3 89.3,600.6 89.7,598.8 90.0,598.4 90.4,599.1 90.7,595.7 91.1,591.7 91.4,589.2 91.7,589.8 92.1,593.0 92.4,597.0 92.8,600.0 93.1,600.1 93.5,599.4 93.8,599.0 94.2,594.3 94.5,591.6 94.9,594.3 95.2,599.0 95.6,596.9 95.9,595.1 96.3,596.9 96.6,599.3 97.0,599.7 97.3,599.3 97.7,598.6 98.0,599.0 98.4,600.7 98.7,598.9 99.1,600.4 99.4,600.4 99.8,599.2 100.1,598.9 100.5,598.5 100.8,594.7 101.2,593.9 101.5,597.1 101.9,600.6 102.2,600.7 102.6,598.9 102.9,598.6 103.3,596.3 103.6,596.8 104.0,599.6 104.3,598.1 104.7,595.4 105.0,596.1 105.4,599.2 105.7,599.6 106.1,600.6 106.4,599.3 106.8,596.4 107.1,594.4 107.5,596.4 107.8,599.9 108.2,599.1 108.5,599.2 108.9,598.9 109.2,600.7 109.6,599.6 109.9,597.9 110.3,598.3 110.6,600.3 111.0,599.0 111.3,598.0 111.7,598.4 112.0,599.1 112.4,599.7 112.7,598.6 113.0,595.1 113.4,594.3 113.7,597.4 114.1,597.4 114.4,595.1 114.8,594.1 115.1,595.1 115.5,596.9 115.8,597.4 116.2,599.9 116.5,599.4 116.9,599.4 117.2,599.0 117.6,600.4 117.9,599.1 118.3,595.9 118.6,595.2 119.0,597.9 119.3,600.2 119.7,598.1 120.0,597.7 120.4,599.5 120.7,598.0 121.1,593.8 121.4,592.9 121.8,596.5 122.1,599.8 122.5,597.4 122.8,596.9 123.2,599.0 123.5,601.2 123.9,601.1 124.2,600.7 124.6,600.5 124.9,599.5 125.3,599.0 125.6,600.9 126.0,599.1 126.3,599.8 126.7,598.7 127.0,596.0 127.4,593.8 127.7,593.4 128.1,595.0 128.4,596.8 128.8,599.3 129.1,600.5 129.5,599.2 129.8,600.6 130.2,601.0 130.5,600.0 130.9,598.4 131.2,598.8 131.6,600.3 131.9,600.2 132.3,600.6 132.6,599.1 133.0,599.5 133.3,599.0 133.7,595.8 134.0,595.1 134.4,597.9 134.7,599.4 135.0,599.7 135.4,599.4 135.7,599.0 136.1,600.9 136.4,600.1 136.8,599.3 137.1,599.9 137.5,599.9 137.8,599.2 138.2,597.2 138.5,594.1 138.9,594.9 139.2,594.1 139.6,595.1 139.9,593.3 140.3,594.2 140.6,598.2 141.0,599.2 141.3,599.3 141.7,599.8 142.0,596.2 142.4,594.1 142.7,596.2 143.1,599.8 143.4,600.3 143.8,599.5 144.1,600.1 144.5,601.1 144.8,599.7 145.2,599.0 145.5,600.1 145.9,599.3 146.2,595.8 146.6,591.8 146.9,592.8 147.3,597.4 147.6,598.7 148.0,600.0 148.3,599.6 148.7,599.2 149.0,596.4 149.4,593.6 149.7,592.4 150.1,593.6 150.4,596.4 150.8,598.9 151.1,598.8 151.5,600.8 151.8,600.7 152.2,600.2 152.5,599.9 152.9,597.6 153.2,597.1 153.6,599.1 153.9,599.4 154.3,600.6 154.6,600.7 155.0,599.2 155.3,601.2 155.7,599.6 156.0,598.9 156.4,598.4 156.7,598.0 157.0,599.7 157.4,599.6 157.7,600.1 158.1,600.4 158.4,601.1 158.8,600.1 159.1,599.2 159.5,598.8 159.8,599.1 160.2,598.2 160.5,598.6 160.9,598.7 161.2,594.8 161.6,590.4 161.9,587.6 162.3,588.2 162.6,591.8 163.0,596.3 163.3,599.3 163.7,599.1 164.0,600.6 164.4,600.6 164.7,600.4 165.1,596.6 165.4,593.0 165.8,593.9 166.1,598.0 166.5,599.9 166.8,599.5 167.2,600.0 167.5,597.7 167.9,596.2 168.2,597.7 168.6,598.7 168.9,599.7 169.3,598.8 169.6,599.3 170.0,599.8 170.3,599.2 170.7,598.1 171.0,599.2 171.4,601.0 171.7,598.7 172.1,594.9 172.4,589.4 172.8,585.0 173.1,584.3 173.5,587.7 173.8,593.1 174.2,596.5 174.5,595.9 174.9,598.4 175.2,599.6 175.6,596.8 175.9,596.3 176.3,598.6 176.6,600.1 177.0,599.4 177.3,595.2 177.7,592.8 178.0,595.2 178.4,599.4 178.7,600.6 179.0,600.0 179.4,599.4 179.7,596.5 180.1,595.9 180.4,598.3 180.8,599.9 181.1,599.1 181.5,594.5 181.8,591.9 182.2,594.5 182.5,599.1 182.9,598.8 183.2,599.0 183.6,597.6 183.9,593.3 184.3,589.2 184.6,587.4 185.0,589.2 185.3,593.3 185.7,597.6 186.0,600.5 186.4,599.8 186.7,598.1 187.1,595.5 187.4,596.1 187.8,599.2 188.1,599.0 188.5,596.9 188.8,597.4 189.2,599.8 189.5,600.4 189.9,600.4 190.2,599.1 190.6,598.7 190.9,600.1 191.3,599.9 191.6,598.8 192.0,599.5 192.3,600.6 192.7,599.8 193.0,599.8 193.4,601.0 193.7,600.3 194.1,598.8 194.4,599.9 194.8,599.4 195.1,599.0 195.5,599.4 195.8,596.1 196.2,592.4 196.5,590.1 196.9,590.6 197.2,593.6 197.6,597.3 197.9,594.7 198.3,595.4 198.6,598.8 199.0,599.9 199.3,600.3 199.7,599.9 200.0,597.7 200.3,596.1 200.7,597.7 201.0,600.4 201.4,600.2 201.7,599.0 202.1,601.2 202.4,599.6 202.8,599.7 203.1,599.4 203.5,595.4 203.8,593.0 204.2,595.4 204.5,599.4 204.9,599.5 205.2,597.8 205.6,595.0 205.9,595.6 206.3,598.9 206.6,599.6 207.0,599.0 207.3,596.6 207.7,594.6 208.0,594.2 208.4,595.8 208.7,595.7 209.1,598.3 209.4,599.5 209.8,596.7 210.1,596.1 210.5,598.5 210.8,599.9 211.2,599.6 211.5,599.8 211.9,600.8 212.2,600.7 212.6,601.1 212.9,600.5 213.3,599.6 213.6,598.5 214.0,598.9 214.3,600.4 214.7,599.9 215.0,599.9 215.4,600.1 215.7,600.6 216.1,600.3 216.4,600.9 216.8,598.8 217.1,598.9 217.5,599.4 217.8,596.5 218.2,595.9 218.5,598.4 218.9,595.4 219.2,592.1 219.6,590.7 219.9,592.1 220.3,595.4 220.6,598.7 221.0,600.1 221.3,598.1 221.7,597.7 222.0,599.5 222.3,600.4 222.7,599.3 223.0,601.0 223.4,600.1 223.7,600.2 224.1,600.9 224.4,599.3 224.8,596.3 225.1,595.7 225.5,598.2 225.8,600.4 226.2,599.3 226.5,600.1 226.9,598.8 227.2,596.6 227.6,597.1 227.9,598.9 228.3,599.7 228.6,598.8 229.0,597.7 229.3,597.2 229.7,599.2 230.0,599.4 230.4,597.8 230.7,595.1 231.1,593.4 231.4,593.8 231.8,596.0 232.1,598.7 232.5,600.3 232.8,600.0 233.2,601.0 233.5,599.5 233.9,599.2 234.2,597.1 234.6,595.4 234.9,597.1 235.3,600.2 235.6,600.0 236.0,598.1 236.3,595.5 236.7,596.1 237.0,598.9 237.4,599.7 237.7,601.0 238.1,599.9 238.4,600.6 238.8,599.1 239.1,600.8 239.5,597.8 239.8,595.1 240.2,595.7 240.5,599.0 240.9,599.9 241.2,600.1 241.6,599.0 241.9,598.4 242.3,596.6 242.6,594.6 243.0,594.2 243.3,595.8 243.7,598.2 244.0,599.5 244.3,596.8 244.7,596.3 245.0,598.6 245.4,600.0 245.7,599.1 246.1,599.5 246.4,600.5 246.8,599.1 247.1,599.4 247.5,598.8 247.8,597.0 248.2,596.5 248.5,598.7 248.9,599.6 249.2,599.6 249.6,595.7 249.9,593.5 250.3,591.7 250.6,592.2 251.0,594.8 251.3,598.0 251.7,599.2 252.0,601.2 252.4,599.8 252.7,600.0 253.1,597.2 253.4,595.5 253.8,597.2 254.1,599.7 254.5,598.9 254.8,599.8 255.2,599.8 255.5,600.0 255.9,599.7 256.2,601.0 256.6,598.9 256.9,597.8 257.3,598.9 257.6,599.6 258.0,599.5 258.3,600.3 258.7,599.9 259.0,601.2 259.4,598.9 259.7,599.1 260.1,599.0 260.4,598.9 260.8,600.1 261.1,599.8 261.5,601.2 261.8,599.3 262.2,599.2 262.5,600.9 262.9,599.1 263.2,597.1 263.6,597.6 263.9,599.6 264.3,600.2 264.6,600.4 265.0,598.6 265.3,591.6 265.7,578.4 266.0,561.1 266.3,547.0 266.7,544.7 267.0,555.6 267.4,572.8 267.7,587.9 268.1,596.9 268.4,599.6 268.8,599.1 269.1,599.2 269.5,598.8 269.8,597.2 270.2,597.7 270.5,600.0 270.9,596.5 271.2,586.9 271.6,570.8 271.9,552.3 272.3,540.7 272.6,543.2 273.0,558.2 273.3,576.7 273.7,590.8 274.0,595.2 274.4,594.5 274.7,597.5 275.1,599.5 275.4,596.8 275.8,596.2 276.1,598.6 276.5,599.1 276.8,596.8 277.2,588.9 277.5,577.0 277.9,565.4 278.2,560.5 278.6,565.4 278.9,577.0 279.3,588.9 279.6,596.8 280.0,600.0 280.3,599.4 280.7,598.3 281.0,597.9 281.4,599.6 281.7,599.4 282.1,600.5 282.4,600.4 282.8,597.7 283.1,594.9 283.5,588.5 283.8,582.1 284.2,579.4 284.5,582.1 284.9,588.5 285.2,595.0 285.6,598.9 285.9,595.5 286.3,594.8 286.6,597.7 287.0,599.4 287.3,596.6 287.6,596.0 288.0,598.4 288.3,600.0 288.7,599.5 289.0,595.9 289.4,591.2 289.7,587.4 290.1,586.8 290.4,589.7 290.8,594.4 291.1,594.8 291.5,595.4 291.8,598.8 292.2,600.9 292.5,600.2 292.9,599.8 293.2,596.1 293.6,594.1 293.9,596.1 294.3,599.8 294.6,596.3 295.0,594.3 295.3,596.3 295.7,598.9 296.0,598.7 296.4,599.7 296.7,599.8 297.1,600.7 297.4,600.8 297.8,599.8 298.1,597.6 298.5,596.0 298.8,597.6 299.2,599.7 299.5,599.5 299.9,599.0 300.2,597.4 300.6,594.4 300.9,592.6 301.3,593.0 301.6,595.4 302.0,598.4 302.3,598.2 302.7,599.8 303.0,600.8 303.4,599.0 303.7,600.3 304.1,597.6 304.4,594.7 304.8,595.4 305.1,598.8 305.5,599.5 305.8,599.9 306.2,598.6 306.5,598.2 306.9,598.7 307.2,599.9 307.6,599.9 307.9,598.8 308.3,599.6 308.6,600.3 309.0,600.3 309.3,600.3 309.6,599.5 310.0,599.4 310.3,599.1 310.7,597.9 311.0,599.1 311.4,599.8 311.7,598.4 312.1,595.4 312.4,593.0 312.8,592.6 313.1,594.4 313.5,594.2 313.8,594.9 314.2,598.6 314.5,599.7 314.9,600.1 315.2,599.4 315.6,599.0 315.9,599.0 316.3,600.2 316.6,598.1 317.0,597.7 317.3,599.5 317.7,600.7 318.0,599.4 318.4,600.4 318.7,598.9 319.1,599.7 319.4,597.8 319.8,596.3 320.1,597.8 320.5,599.9 320.8,599.8 321.2,601.1 321.5,597.6 321.9,593.1 322.2,592.2 322.6,596.0 322.9,599.0 323.3,595.7 323.6,595.1 324.0,596.1 324.3,592.4 324.7,590.1 325.0,590.6 325.4,593.6 325.7,597.3 326.1,600.2 326.4,600.0 326.8,597.7 327.1,597.2 327.5,599.2 327.8,600.8 328.2,600.9 328.5,599.1 328.9,599.8 329.2,600.2 329.6,600.4 329.9,599.3 330.3,596.3 330.6,595.6 331.0,598.2 331.3,599.8 331.6,600.7 332.0,600.6 332.3,598.8 332.7,596.6 333.0,597.1 333.4,599.4 333.7,599.5 334.1,600.8 334.4,600.8 334.8,599.8 335.1,597.0 335.5,593.8 335.8,591.7 336.2,592.2 336.5,594.8 336.9,598.0 337.2,600.2 337.6,600.8 337.9,599.4 338.3,600.6 338.6,599.2 339.0,596.1 339.3,595.5 339.7,598.1 340.0,599.3 340.4,600.2 340.7,600.4 341.1,599.7 341.4,599.7 341.8,598.9 342.1,601.0 342.5,600.5 342.8,599.3 343.2,599.2 343.5,600.0 343.9,600.4 344.2,597.7 344.6,596.1 344.9,597.7 345.3,600.4 345.6,600.4 346.0,599.3 346.3,600.2 346.7,598.4 347.0,595.4 347.4,593.0 347.7,592.6 348.1,594.4 348.4,597.4 348.8,600.0 349.1,596.8 349.5,595.0 349.8,596.8 350.2,600.0 350.5,600.8 350.9,599.2 351.2,600.1 351.6,600.8 351.9,599.7 352.3,600.8 352.6,598.6 353.0,597.3 353.3,598.6 353.6,600.6 354.0,599.0 354.3,600.2 354.7,600.9 355.0,601.0 355.4,600.6 355.7,599.9 356.1,600.3 356.4,600.9 356.8,599.8 357.1,599.9 357.5,599.4 357.8,598.2 358.2,596.8 358.5,595.4 358.9,592.1 359.2,590.7 359.6,592.1 359.9,595.4 360.3,598.7 360.6,600.0 361.0,598.5 361.3,598.8 361.7,600.1 362.0,600.4 362.4,599.0 362.7,599.4 363.1,598.5 363.4,597.3 363.8,598.5 364.1,598.4 364.5,595.4 364.8,593.0 365.2,592.6 365.5,594.4 365.9,597.4 366.2,595.5 366.6,596.2 366.9,598.9 367.3,599.2 367.6,600.4 368.0,599.1 368.3,600.2 368.7,599.8 369.0,600.5 369.4,598.2 369.7,595.6 370.1,596.3 370.4,586.9 370.8,568.0 371.1,543.1 371.5,523.0 371.8,519.7 372.2,535.2 372.5,560.0 372.9,581.6 373.2,594.5 373.6,598.8 373.9,600.6 374.3,600.2 374.6,599.5 374.9,598.8 375.3,598.5 375.6,600.0 376.0,598.4 376.3,590.8 376.7,576.6 377.0,558.0 377.4,542.9 377.7,540.4 378.1,552.1 378.4,570.6 378.8,586.8 379.1,596.5 379.5,600.7 379.8,600.4 380.2,600.3 380.5,599.6 380.9,600.3 381.2,599.2 381.6,599.6 381.9,594.4 382.3,584.5 382.6,571.6 383.0,561.2 383.3,559.4 383.7,567.5 384.0,580.4 384.4,591.6 384.7,597.5 385.1,594.5 385.4,595.2 385.8,598.7 386.1,598.9 386.5,600.6 386.8,600.1 387.2,599.1 387.5,600.4 387.9,597.9 388.2,593.1 388.6,587.7 388.9,584.3 389.3,585.0 389.6,589.4 390.0,594.9 390.3,598.9 390.7,599.9 391.0,600.9 391.4,601.1 391.7,599.2 392.1,599.3 392.4,599.6 392.8,597.3 393.1,593.6 393.5,590.6 393.8,590.1 394.2,592.4 394.5,593.4 394.9,595.6 395.2,599.5 395.6,600.4 395.9,599.4 396.3,600.5 396.6,599.3 396.9,595.9 397.3,592.0 397.6,592.9 398.0,597.5 398.3,600.0 398.7,600.3 399.0,598.0 399.4,594.8 399.7,592.2 400.1,591.7 400.4,593.8 400.8,596.5 401.1,598.7 401.5,598.9 401.8,600.0 402.2,596.6 402.5,594.6 402.9,596.6 403.2,598.9 403.6,594.3 403.9,591.6 404.3,594.3 404.6,599.0 405.0,597.4 405.3,594.4 405.7,592.6 406.0,593.0 406.4,595.4 406.7,595.9 407.1,596.5 407.4,599.4 407.8,599.6 408.1,600.1 408.5,598.9 408.8,600.4 409.2,599.2 409.5,598.6 409.9,598.2 410.2,599.8 410.6,599.6 410.9,597.4 411.3,595.1 411.6,594.1 412.0,595.1 412.3,597.4 412.7,595.7 413.0,597.4 413.4,599.2 413.7,598.7 414.1,599.4 414.4,601.0 414.8,599.8 415.1,599.6 415.5,599.3 415.8,599.6 416.2,599.2 416.5,598.7 416.9,596.0 417.2,593.8 417.6,593.4 417.9,595.1 418.3,597.8 418.6,598.9 418.9,600.0 419.3,600.4 419.6,600.6 420.0,599.7 420.3,599.2 420.7,599.7 421.0,600.0 421.4,599.9 421.7,599.9 422.1,599.0 422.4,600.5 422.8,600.1 423.1,599.9 423.5,597.4 423.8,596.9 424.2,599.0 424.5,600.1 424.9,598.7 425.2,600.0 425.6,599.9 425.9,599.3 426.3,599.6 426.6,599.9 427.0,598.9 427.3,600.9 427.7,598.9 428.0,597.7 428.4,596.1 428.7,594.3 429.1,593.3 429.4,594.3 429.8,596.9 430.1,594.5 430.5,595.2 430.8,598.7 431.2,599.3 431.5,600.2 431.9,600.1 432.2,599.0 432.6,598.2 432.9,594.3 433.3,593.5 433.6,596.9 434.0,600.5 434.3,599.3 434.7,599.0 435.0,600.3 435.4,600.9 435.7,600.0 436.1,600.7 436.4,599.3 436.8,600.7 437.1,600.4 437.5,599.4 437.8,600.4 438.2,601.1 438.5,599.0 438.9,599.5 439.2,599.0 439.6,600.0 439.9,597.4 440.3,594.4 440.6,592.6 440.9,593.0 441.3,595.4 441.6,598.4 442.0,600.4 442.3,598.9 442.7,599.5 443.0,599.5 443.4,600.1 443.7,598.9 444.1,599.2 444.4,600.6 444.8,597.0 445.1,593.8 445.5,594.6 445.8,598.4 446.2,600.9 446.5,600.7 446.9,599.9 447.2,596.4 447.6,594.4 447.9,596.4 448.3,599.9 448.6,598.7 449.0,598.9 449.3,599.8 449.7,600.9 450.0,599.0 450.4,598.9 450.7,596.8 451.1,597.3 451.4,598.0 451.8,594.8 452.1,592.2 452.5,591.7 452.8,593.8 453.2,597.0 453.5,599.2 453.9,600.9 454.2,598.9 454.6,601.2 454.9,599.0 455.3,600.2 455.6,598.9 456.0,599.4 456.3,599.7 456.7,599.9 457.0,596.7 457.4,593.3 457.7,594.1 458.1,598.1 458.4,601.2 458.8,598.9 459.1,599.4 459.5,601.0 459.8,600.5 460.2,600.0 460.5,596.4 460.9,592.8 461.2,593.6 461.6,597.9 461.9,599.9 462.2,598.3 462.6,598.7 462.9,599.5 463.3,596.9 463.6,594.3 464.0,593.3 464.3,594.3 464.7,596.9 465.0,599.1 465.4,598.8 465.7,599.8 466.1,600.3 466.4,598.9 466.8,598.1 467.1,597.7 467.5,599.5 467.8,599.3 468.2,600.3 468.5,599.4 468.9,599.1 469.2,599.7 469.6,596.5 469.9,594.5 470.3,596.5 470.6,599.2 471.0,595.4 471.3,593.1 471.7,595.4 472.0,599.4 472.4,599.5 472.7,601.0 473.1,601.0 473.4,599.3 473.8,599.6 474.1,600.7 474.5,600.3 474.8,599.6 475.2,596.5 475.5,593.1 475.9,590.9 476.2,591.4 476.6,594.2 476.9,597.7 477.3,600.3 477.6,600.0 478.0,600.6 478.3,599.0 478.7,595.8 479.0,595.2 479.4,597.9 479.7,599.8 480.1,599.1 480.4,599.2 480.8,597.6 481.1,594.7 481.5,595.4 481.8,598.8 482.2,597.9 482.5,595.1 482.9,595.8 483.2,599.0 483.6,601.1 483.6,603.0" fill="#2f44a4" opacity="0.92"/>
<polyline points="81.6,599.2 82.0,599.8 82.3,600.3 82.7,599.5 83.0,601.1 83.4,600.5 83.7,597.8 84.1,596.3 84.4,597.8 84.8,600.4 85.1,600.6 85.5,601.2 85.8,600.0 86.2,601.2 86.5,599.5 86.9,600.0 87.2,600.4 87.6,599.8 87.9,599.8 88.3,598.8 88.6,600.4 89.0,599.3 89.3,600.6 89.7,598.8 90.0,598.4 90.4,599.1 90.7,595.7 91.1,591.7 91.4,589.2 91.7,589.8 92.1,593.0 92.4,597.0 92.8,600.0 93.1,600.1 93.5,599.4 93.8,599.0 94.2,594.3 94.5,591.6 94.9,594.3 95.2,599.0 95.6,596.9 95.9,595.1 96.3,596.9 96.6,599.3 97.0,599.7 97.3,599.3 97.7,598.6 98.0,599.0 98.4,600.7 98.7,598.9 99.1,600.4 99.4,600.4 99.8,599.2 100.1,598.9 100.5,598.5 100.8,594.7 101.2,593.9 101.5,597.1 101.9,600.6 102.2,600.7 102.6,598.9 102.9,598.6 103.3,596.3 103.6,596.8 104.0,599.6 104.3,598.1 104.7,595.4 105.0,596.1 105.4,599.2 105.7,599.6 106.1,600.6 106.4,599.3 106.8,596.4 107.1,594.4 107.5,596.4 107.8,599.9 108.2,599.1 108.5,599.2 108.9,598.9 109.2,600.7 109.6,599.6 109.9,597.9 110.3,598.3 110.6,600.3 111.0,599.0 111.3,598.0 111.7,598.4 112.0,599.1 112.4,599.7 112.7,598.6 113.0,595.1 113.4,594.3 113.7,597.4 114.1,597.4 114.4,595.1 114.8,594.1 115.1,595.1 115.5,596.9 115.8,597.4 116.2,599.9 116.5,599.4 116.9,599.4 117.2,599.0 117.6,600.4 117.9,599.1 118.3,595.9 118.6,595.2 119.0,597.9 119.3,600.2 119.7,598.1 120.0,597.7 120.4,599.5 120.7,598.0 121.1,593.8 121.4,592.9 121.8,596.5 122.1,599.8 122.5,597.4 122.8,596.9 123.2,599.0 123.5,601.2 123.9,601.1 124.2,600.7 124.6,600.5 124.9,599.5 125.3,599.0 125.6,600.9 126.0,599.1 126.3,599.8 126.7,598.7 127.0,596.0 127.4,593.8 127.7,593.4 128.1,595.0 128.4,596.8 128.8,599.3 129.1,600.5 129.5,599.2 129.8,600.6 130.2,601.0 130.5,600.0 130.9,598.4 131.2,598.8 131.6,600.3 131.9,600.2 132.3,600.6 132.6,599.1 133.0,599.5 133.3,599.0 133.7,595.8 134.0,595.1 134.4,597.9 134.7,599.4 135.0,599.7 135.4,599.4 135.7,599.0 136.1,600.9 136.4,600.1 136.8,599.3 137.1,599.9 137.5,599.9 137.8,599.2 138.2,597.2 138.5,594.1 138.9,594.9 139.2,594.1 139.6,595.1 139.9,593.3 140.3,594.2 140.6,598.2 141.0,599.2 141.3,599.3 141.7,599.8 142.0,596.2 142.4,594.1 142.7,596.2 143.1,599.8 143.4,600.3 143.8,599.5 144.1,600.1 144.5,601.1 144.8,599.7 145.2,599.0 145.5,600.1 145.9,599.3 146.2,595.8 146.6,591.8 146.9,592.8 147.3,597.4 147.6,598.7 148.0,600.0 148.3,599.6 148.7,599.2 149.0,596.4 149.4,593.6 149.7,592.4 150.1,593.6 150.4,596.4 150.8,598.9 151.1,598.8 151.5,600.8 151.8,600.7 152.2,600.2 152.5,599.9 152.9,597.6 153.2,597.1 153.6,599.1 153.9,599.4 154.3,600.6 154.6,600.7 155.0,599.2 155.3,601.2 155.7,599.6 156.0,598.9 156.4,598.4 156.7,598.0 157.0,599.7 157.4,599.6 157.7,600.1 158.1,600.4 158.4,601.1 158.8,600.1 159.1,599.2 159.5,598.8 159.8,599.1 160.2,598.2 160.5,598.6 160.9,598.7 161.2,594.8 161.6,590.4 161.9,587.6 162.3,588.2 162.6,591.8 163.0,596.3 163.3,599.3 163.7,599.1 164.0,600.6 164.4,600.6 164.7,600.4 165.1,596.6 165.4,593.0 165.8,593.9 166.1,598.0 166.5,599.9 166.8,599.5 167.2,600.0 167.5,597.7 167.9,596.2 168.2,597.7 168.6,598.7 168.9,599.7 169.3,598.8 169.6,599.3 170.0,599.8 170.3,599.2 170.7,598.1 171.0,599.2 171.4,601.0 171.7,598.7 172.1,594.9 172.4,589.4 172.8,585.0 173.1,584.3 173.5,587.7 173.8,593.1 174.2,596.5 174.5,595.9 174.9,598.4 175.2,599.6 175.6,596.8 175.9,596.3 176.3,598.6 176.6,600.1 177.0,599.4 177.3,595.2 177.7,592.8 178.0,595.2 178.4,599.4 178.7,600.6 179.0,600.0 179.4,599.4 179.7,596.5 180.1,595.9 180.4,598.3 180.8,599.9 181.1,599.1 181.5,594.5 181.8,591.9 182.2,594.5 182.5,599.1 182.9,598.8 183.2,599.0 183.6,597.6 183.9,593.3 184.3,589.2 184.6,587.4 185.0,589.2 185.3,593.3 185.7,597.6 186.0,600.5 186.4,599.8 186.7,598.1 187.1,595.5 187.4,596.1 187.8,599.2 188.1,599.0 188.5,596.9 188.8,597.4 189.2,599.8 189.5,600.4 189.9,600.4 190.2,599.1 190.6,598.7 190.9,600.1 191.3,599.9 191.6,598.8 192.0,599.5 192.3,600.6 192.7,599.8 193.0,599.8 193.4,601.0 193.7,600.3 194.1,598.8 194.4,599.9 194.8,599.4 195.1,599.0 195.5,599.4 195.8,596.1 196.2,592.4 196.5,590.1 196.9,590.6 197.2,593.6 197.6,597.3 197.9,594.7 198.3,595.4 198.6,598.8 199.0,599.9 199.3,600.3 199.7,599.9 200.0,597.7 200.3,596.1 200.7,597.7 201.0,600.4 201.4,600.2 201.7,599.0 202.1,601.2 202.4,599.6 202.8,599.7 203.1,599.4 203.5,595.4 203.8,593.0 204.2,595.4 204.5,599.4 204.9,599.5 205.2,597.8 205.6,595.0 205.9,595.6 206.3,598.9 206.6,599.6 207.0,599.0 207.3,596.6 207.7,594.6 208.0,594.2 208.4,595.8 208.7,595.7 209.1,598.3 209.4,599.5 209.8,596.7 210.1,596.1 210.5,598.5 210.8,599.9 211.2,599.6 211.5,599.8 211.9,600.8 212.2,600.7 212.6,601.1 212.9,600.5 213.3,599.6 213.6,598.5 214.0,598.9 214.3,600.4 214.7,599.9 215.0,599.9 215.4,600.1 215.7,600.6 216.1,600.3 216.4,600.9 216.8,598.8 217.1,598.9 217.5,599.4 217.8,596.5 218.2,595.9 218.5,598.4 218.9,595.4 219.2,592.1 219.6,590.7 219.9,592.1 220.3,595.4 220.6,598.7 221.0,600.1 221.3,598.1 221.7,597.7 222.0,599.5 222.3,600.4 222.7,599.3 223.0,601.0 223.4,600.1 223.7,600.2 224.1,600.9 224.4,599.3 224.8,596.3 225.1,595.7 225.5,598.2 225.8,600.4 226.2,599.3 226.5,600.1 226.9,598.8 227.2,596.6 227.6,597.1 227.9,598.9 228.3,599.7 228.6,598.8 229.0,597.7 229.3,597.2 229.7,599.2 230.0,599.4 230.4,597.8 230.7,595.1 231.1,593.4 231.4,593.8 231.8,596.0 232.1,598.7 232.5,600.3 232.8,600.0 233.2,601.0 233.5,599.5 233.9,599.2 234.2,597.1 234.6,595.4 234.9,597.1 235.3,600.2 235.6,600.0 236.0,598.1 236.3,595.5 236.7,596.1 237.0,598.9 237.4,599.7 237.7,601.0 238.1,599.9 238.4,600.6 238.8,599.1 239.1,600.8 239.5,597.8 239.8,595.1 240.2,595.7 240.5,599.0 240.9,599.9 241.2,600.1 241.6,599.0 241.9,598.4 242.3,596.6 242.6,594.6 243.0,594.2 243.3,595.8 243.7,598.2 244.0,599.5 244.3,596.8 244.7,596.3 245.0,598.6 245.4,600.0 245.7,599.1 246.1,599.5 246.4,600.5 246.8,599.1 247.1,599.4 247.5,598.8 247.8,597.0 248.2,596.5 248.5,598.7 248.9,599.6 249.2,599.6 249.6,595.7 249.9,593.5 250.3,591.7 250.6,592.2 251.0,594.8 251.3,598.0 251.7,599.2 252.0,601.2 252.4,599.8 252.7,600.0 253.1,597.2 253.4,595.5 253.8,597.2 254.1,599.7 254.5,598.9 254.8,599.8 255.2,599.8 255.5,600.0 255.9,599.7 256.2,601.0 256.6,598.9 256.9,597.8 257.3,598.9 257.6,599.6 258.0,599.5 258.3,600.3 258.7,599.9 259.0,601.2 259.4,598.9 259.7,599.1 260.1,599.0 260.4,598.9 260.8,600.1 261.1,599.8 261.5,601.2 261.8,599.3 262.2,599.2 262.5,600.9 262.9,599.1 263.2,597.1 263.6,597.6 263.9,599.6 264.3,600.2 264.6,600.4 265.0,598.6 265.3,591.6 265.7,578.4 266.0,561.1 266.3,547.0 266.7,544.7 267.0,555.6 267.4,572.8 267.7,587.9 268.1,596.9 268.4,599.6 268.8,599.1 269.1,599.2 269.5,598.8 269.8,597.2 270.2,597.7 270.5,600.0 270.9,596.5 271.2,586.9 271.6,570.8 271.9,552.3 272.3,540.7 272.6,543.2 273.0,558.2 273.3,576.7 273.7,590.8 274.0,595.2 274.4,594.5 274.7,597.5 275.1,599.5 275.4,596.8 275.8,596.2 276.1,598.6 276.5,599.1 276.8,596.8 277.2,588.9 277.5,577.0 277.9,565.4 278.2,560.5 278.6,565.4 278.9,577.0 279.3,588.9 279.6,596.8 280.0,600.0 280.3,599.4 280.7,598.3 281.0,597.9 281.4,599.6 281.7,599.4 282.1,600.5 282.4,600.4 282.8,597.7 283.1,594.9 283.5,588.5 283.8,582.1 284.2,579.4 284.5,582.1 284.9,588.5 285.2,595.0 285.6,598.9 285.9,595.5 286.3,594.8 286.6,597.7 287.0,599.4 287.3,596.6 287.6,596.0 288.0,598.4 288.3,600.0 288.7,599.5 289.0,595.9 289.4,591.2 289.7,587.4 290.1,586.8 290.4,589.7 290.8,594.4 291.1,594.8 291.5,595.4 291.8,598.8 292.2,600.9 292.5,600.2 292.9,599.8 293.2,596.1 293.6,594.1 293.9,596.1 294.3,599.8 294.6,596.3 295.0,594.3 295.3,596.3 295.7,598.9 296.0,598.7 296.4,599.7 296.7,599.8 297.1,600.7 297.4,600.8 297.8,599.8 298.1,597.6 298.5,596.0 298.8,597.6 299.2,599.7 299.5,599.5 299.9,599.0 300.2,597.4 300.6,594.4 300.9,592.6 301.3,593.0 301.6,595.4 302.0,598.4 302.3,598.2 302.7,599.8 303.0,600.8 303.4,599.0 303.7,600.3 304.1,597.6 304.4,594.7 304.8,595.4 305.1,598.8 305.5,599.5 305.8,599.9 306.2,598.6 306.5,598.2 306.9,598.7 307.2,599.9 307.6,599.9 307.9,598.8 308.3,599.6 308.6,600.3 309.0,600.3 309.3,600.3 309.6,599.5 310.0,599.4 310.3,599.1 310.7,597.9 311.0,599.1 311.4,599.8 311.7,598.4 312.1,595.4 312.4,593.0 312.8,592.6 313.1,594.4 313.5,594.2 313.8,594.9 314.2,598.6 314.5,599.7 314.9,600.1 315.2,599.4 315.6,599.0 315.9,599.0 316.3,600.2 316.6,598.1 317.0,597.7 317.3,599.5 317.7,600.7 318.0,599.4 318.4,600.4 318.7,598.9 319.1,599.7 319.4,597.8 319.8,596.3 320.1,597.8 320.5,599.9 320.8,599.8 321.2,601.1 321.5,597.6 321.9,593.1 322.2,592.2 322.6,596.0 322.9,599.0 323.3,595.7 323.6,595.1 324.0,596.1 324.3,592.4 324.7,590.1 325.0,590.6 325.4,593.6 325.7,597.3 326.1,600.2 326.4,600.0 326.8,597.7 327.1,597.2 327.5,599.2 327.8,600.8 328.2,600.9 328.5,599.1 328.9,599.8 329.2,600.2 329.6,600.4 329.9,599.3 330.3,596.3 330.6,595.6 331.0,598.2 331.3,599.8 331.6,600.7 332.0,600.6 332.3,598.8 332.7,596.6 333.0,597.1 333.4,599.4 333.7,599.5 334.1,600.8 334.4,600.8 334.8,599.8 335.1,597.0 335.5,593.8 335.8,591.7 336.2,592.2 336.5,594.8 336.9,598.0 337.2,600.2 337.6,600.8 337.9,599.4 338.3,600.6 338.6,599.2 339.0,596.1 339.3,595.5 339.7,598.1 340.0,599.3 340.4,600.2 340.7,600.4 341.1,599.7 341.4,599.7 341.8,598.9 342.1,601.0 342.5,600.5 342.8,599.3 343.2,599.2 343.5,600.0 343.9,600.4 344.2,597.7 344.6,596.1 344.9,597.7 345.3,600.4 345.6,600.4 346.0,599.3 346.3,600.2 346.7,598.4 347.0,595.4 347.4,593.0 347.7,592.6 348.1,594.4 348.4,597.4 348.8,600.0 349.1,596.8 349.5,595.0 349.8,596.8 350.2,600.0 350.5,600.8 350.9,599.2 351.2,600.1 351.6,600.8 351.9,599.7 352.3,600.8 352.6,598.6 353.0,597.3 353.3,598.6 353.6,600.6 354.0,599.0 354.3,600.2 354.7,600.9 355.0,601.0 355.4,600.6 355.7,599.9 356.1,600.3 356.4,600.9 356.8,599.8 357.1,599.9 357.5,599.4 357.8,598.2 358.2,596.8 358.5,595.4 358.9,592.1 359.2,590.7 359.6,592.1 359.9,595.4 360.3,598.7 360.6,600.0 361.0,598.5 361.3,598.8 361.7,600.1 362.0,600.4 362.4,599.0 362.7,599.4 363.1,598.5 363.4,597.3 363.8,598.5 364.1,598.4 364.5,595.4 364.8,593.0 365.2,592.6 365.5,594.4 365.9,597.4 366.2,595.5 366.6,596.2 366.9,598.9 367.3,599.2 367.6,600.4 368.0,599.1 368.3,600.2 368.7,599.8 369.0,600.5 369.4,598.2 369.7,595.6 370.1,596.3 370.4,586.9 370.8,568.0 371.1,543.1 371.5,523.0 371.8,519.7 372.2,535.2 372.5,560.0 372.9,581.6 373.2,594.5 373.6,598.8 373.9,600.6 374.3,600.2 374.6,599.5 374.9,598.8 375.3,598.5 375.6,600.0 376.0,598.4 376.3,590.8 376.7,576.6 377.0,558.0 377.4,542.9 377.7,540.4 378.1,552.1 378.4,570.6 378.8,586.8 379.1,596.5 379.5,600.7 379.8,600.4 380.2,600.3 380.5,599.6 380.9,600.3 381.2,599.2 381.6,599.6 381.9,594.4 382.3,584.5 382.6,571.6 383.0,561.2 383.3,559.4 383.7,567.5 384.0,580.4 384.4,591.6 384.7,597.5 385.1,594.5 385.4,595.2 385.8,598.7 386.1,598.9 386.5,600.6 386.8,600.1 387.2,599.1 387.5,600.4 387.9,597.9 388.2,593.1 388.6,587.7 388.9,584.3 389.3,585.0 389.6,589.4 390.0,594.9 390.3,598.9 390.7,599.9 391.0,600.9 391.4,601.1 391.7,599.2 392.1,599.3 392.4,599.6 392.8,597.3 393.1,593.6 393.5,590.6 393.8,590.1 394.2,592.4 394.5,593.4 394.9,595.6 395.2,599.5 395.6,600.4 395.9,599.4 396.3,600.5 396.6,599.3 396.9,595.9 397.3,592.0 397.6,592.9 398.0,597.5 398.3,600.0 398.7,600.3 399.0,598.0 399.4,594.8 399.7,592.2 400.1,591.7 400.4,593.8 400.8,596.5 401.1,598.7 401.5,598.9 401.8,600.0 402.2,596.6 402.5,594.6 402.9,596.6 403.2,598.9 403.6,594.3 403.9,591.6 404.3,594.3 404.6,599.0 405.0,597.4 405.3,594.4 405.7,592.6 406.0,593.0 406.4,595.4 406.7,595.9 407.1,596.5 407.4,599.4 407.8,599.6 408.1,600.1 408.5,598.9 408.8,600.4 409.2,599.2 409.5,598.6 409.9,598.2 410.2,599.8 410.6,599.6 410.9,597.4 411.3,595.1 411.6,594.1 412.0,595.1 412.3,597.4 412.7,595.7 413.0,597.4 413.4,599.2 413.7,598.7 414.1,599.4 414.4,601.0 414.8,599.8 415.1,599.6 415.5,599.3 415.8,599.6 416.2,599.2 416.5,598.7 416.9,596.0 417.2,593.8 417.6,593.4 417.9,595.1 418.3,597.8 418.6,598.9 418.9,600.0 419.3,600.4 419.6,600.6 420.0,599.7 420.3,599.2 420.7,599.7 421.0,600.0 421.4,599.9 421.7,599.9 422.1,599.0 422.4,600.5 422.8,600.1 423.1,599.9 423.5,597.4 423.8,596.9 424.2,599.0 424.5,600.1 424.9,598.7 425.2,600.0 425.6,599.9 425.9,599.3 426.3,599.6 426.6,599.9 427.0,598.9 427.3,600.9 427.7,598.9 428.0,597.7 428.4,596.1 428.7,594.3 429.1,593.3 429.4,594.3 429.8,596.9 430.1,594.5 430.5,595.2 430.8,598.7 431.2,599.3 431.5,600.2 431.9,600.1 432.2,599.0 432.6,598.2 432.9,594.3 433.3,593.5 433.6,596.9 434.0,600.5 434.3,599.3 434.7,599.0 435.0,600.3 435.4,600.9 435.7,600.0 436.1,600.7 436.4,599.3 436.8,600.7 437.1,600.4 437.5,599.4 437.8,600.4 438.2,601.1 438.5,599.0 438.9,599.5 439.2,599.0 439.6,600.0 439.9,597.4 440.3,594.4 440.6,592.6 440.9,593.0 441.3,595.4 441.6,598.4 442.0,600.4 442.3,598.9 442.7,599.5 443.0,599.5 443.4,600.1 443.7,598.9 444.1,599.2 444.4,600.6 444.8,597.0 445.1,593.8 445.5,594.6 445.8,598.4 446.2,600.9 446.5,600.7 446.9,599.9 447.2,596.4 447.6,594.4 447.9,596.4 448.3,599.9 448.6,598.7 449.0,598.9 449.3,599.8 449.7,600.9 450.0,599.0 450.4,598.9 450.7,596.8 451.1,597.3 451.4,598.0 451.8,594.8 452.1,592.2 452.5,591.7 452.8,593.8 453.2,597.0 453.5,599.2 453.9,600.9 454.2,598.9 454.6,601.2 454.9,599.0 455.3,600.2 455.6,598.9 456.0,599.4 456.3,599.7 456.7,599.9 457.0,596.7 457.4,593.3 457.7,594.1 458.1,598.1 458.4,601.2 458.8,598.9 459.1,599.4 459.5,601.0 459.8,600.5 460.2,600.0 460.5,596.4 460.9,592.8 461.2,593.6 461.6,597.9 461.9,599.9 462.2,598.3 462.6,598.7 462.9,599.5 463.3,596.9 463.6,594.3 464.0,593.3 464.3,594.3 464.7,596.9 465.0,599.1 465.4,598.8 465.7,599.8 466.1,600.3 466.4,598.9 466.8,598.1 467.1,597.7 467.5,599.5 467.8,599.3 468.2,600.3 468.5,599.4 468.9,599.1 469.2,599.7 469.6,596.5 469.9,594.5 470.3,596.5 470.6,599.2 471.0,595.4 471.3,593.1 471.7,595.4 472.0,599.4 472.4,599.5 472.7,601.0 473.1,601.0 473.4,599.3 473.8,599.6 474.1,600.7 474.5,600.3 474.8,599.6 475.2,596.5 475.5,593.1 475.9,590.9 476.2,591.4 476.6,594.2 476.9,597.7 477.3,600.3 477.6,600.0 478.0,600.6 478.3,599.0 478.7,595.8 479.0,595.2 479.4,597.9 479.7,599.8 480.1,599.1 480.4,599.2 480.8,597.6 481.1,594.7 481.5,595.4 481.8,598.8 482.2,597.9 482.5,595.1 482.9,595.8 483.2,599.0 483.6,601.1" fill="none" stroke="#263a96" stroke-width="1.3" stroke-linejoin="round"/>
<text x="266.3" y="512.5" font-size="7" fill="#cc3a3a" textLength="11.6" lengthAdjust="spacingAndGlyphs">light</text>
<text x="364.0" y="513.0" font-size="7" fill="#cc3a3a" textLength="18.7" lengthAdjust="spacingAndGlyphs">heavy</text>
<text x="98.5" y="580.5" font-size="7.4" fill="#2a2a2a" textLength="27.5" lengthAdjust="spacingAndGlyphs">883.4056</text>
<text x="160.0" y="583.0" font-size="7.4" fill="#2a2a2a" textLength="27.5" lengthAdjust="spacingAndGlyphs">890.4039</text>
<text x="203.3" y="580.5" font-size="7.4" fill="#2a2a2a" textLength="27.5" lengthAdjust="spacingAndGlyphs">892.4280</text>
<text x="238.3" y="586.0" font-size="7.4" fill="#2a2a2a" textLength="27.5" lengthAdjust="spacingAndGlyphs">897.0513</text>
<text x="233.5" y="557.3" font-size="7.4" fill="#2a2a2a" textLength="27.5" lengthAdjust="spacingAndGlyphs">898.4391</text>
<text x="259.8" y="536.6" font-size="7.4" fill="#2a2a2a" textLength="27.5" lengthAdjust="spacingAndGlyphs">898.9362</text>
<text x="285.4" y="551.6" font-size="7.4" fill="#2a2a2a" textLength="27.5" lengthAdjust="spacingAndGlyphs">899.4399</text>
<text x="291.4" y="571.3" font-size="7.4" fill="#2a2a2a" textLength="27.5" lengthAdjust="spacingAndGlyphs">899.9562</text>
<text x="312.4" y="583.4" font-size="7.4" fill="#2a2a2a" textLength="27.5" lengthAdjust="spacingAndGlyphs">903.4439</text>
<text x="378.8" y="526.5" font-size="7.4" fill="#2a2a2a" textLength="27.5" lengthAdjust="spacingAndGlyphs">907.4734</text>
<text x="384.3" y="546.6" font-size="7.4" fill="#2a2a2a" textLength="27.5" lengthAdjust="spacingAndGlyphs">907.9752</text>
<text x="390.0" y="567.3" font-size="7.4" fill="#2a2a2a" textLength="27.5" lengthAdjust="spacingAndGlyphs">908.4636</text>
<text x="399.7" y="580.0" font-size="7.4" fill="#2a2a2a" textLength="27.5" lengthAdjust="spacingAndGlyphs">909.3615</text>
<text x="442.5" y="580.0" font-size="7.4" fill="#2a2a2a" textLength="27.5" lengthAdjust="spacingAndGlyphs">916.4299</text>
<text x="482.4" y="626.0" font-size="15.5" textLength="21.5" lengthAdjust="spacingAndGlyphs">m/z</text>
<line x1="78.8" y1="641.0" x2="78.8" y2="754.3" stroke="#222" stroke-width="0.9" />
<line x1="78.8" y1="754.3" x2="445.0" y2="754.3" stroke="#222" stroke-width="0.9" />
<line x1="77.0" y1="754.3" x2="78.8" y2="754.3" stroke="#222" stroke-width="0.7" />
<text x="76.0" y="756.3" font-size="5.5" fill="#222" text-anchor="end">0</text>
<line x1="77.0" y1="742.8" x2="78.8" y2="742.8" stroke="#222" stroke-width="0.7" />
<text x="76.0" y="744.8" font-size="5.5" fill="#222" text-anchor="end">5</text>
<line x1="77.0" y1="731.3" x2="78.8" y2="731.3" stroke="#222" stroke-width="0.7" />
<text x="76.0" y="733.3" font-size="5.5" fill="#222" text-anchor="end">10</text>
<line x1="77.0" y1="719.8" x2="78.8" y2="719.8" stroke="#222" stroke-width="0.7" />
<text x="76.0" y="721.8" font-size="5.5" fill="#222" text-anchor="end">15</text>
<line x1="77.0" y1="708.3" x2="78.8" y2="708.3" stroke="#222" stroke-width="0.7" />
<text x="76.0" y="710.3" font-size="5.5" fill="#222" text-anchor="end">20</text>
<line x1="77.0" y1="696.8" x2="78.8" y2="696.8" stroke="#222" stroke-width="0.7" />
<text x="76.0" y="698.8" font-size="5.5" fill="#222" text-anchor="end">25</text>
<line x1="77.0" y1="685.3" x2="78.8" y2="685.3" stroke="#222" stroke-width="0.7" />
<text x="76.0" y="687.3" font-size="5.5" fill="#222" text-anchor="end">30</text>
<line x1="77.0" y1="673.8" x2="78.8" y2="673.8" stroke="#222" stroke-width="0.7" />
<text x="76.0" y="675.8" font-size="5.5" fill="#222" text-anchor="end">35</text>
<line x1="77.0" y1="662.3" x2="78.8" y2="662.3" stroke="#222" stroke-width="0.7" />
<text x="76.0" y="664.3" font-size="5.5" fill="#222" text-anchor="end">40</text>
<line x1="77.0" y1="650.8" x2="78.8" y2="650.8" stroke="#222" stroke-width="0.7" />
<text x="76.0" y="652.8" font-size="5.5" fill="#222" text-anchor="end">45</text>
<text transform="translate(66.0,702.0) rotate(-90)" text-anchor="middle" font-size="5" textLength="20.0" lengthAdjust="spacingAndGlyphs">Intensity</text>
<line x1="111.0" y1="754.3" x2="111.0" y2="756.8" stroke="#222" stroke-width="0.7" />
<text x="111.0" y="763.3" font-size="5.8" fill="#333" text-anchor="middle">200</text>
<line x1="152.5" y1="754.3" x2="152.5" y2="756.8" stroke="#222" stroke-width="0.7" />
<text x="152.5" y="763.3" font-size="5.8" fill="#333" text-anchor="middle">400</text>
<line x1="194.0" y1="754.3" x2="194.0" y2="756.8" stroke="#222" stroke-width="0.7" />
<text x="194.0" y="763.3" font-size="5.8" fill="#333" text-anchor="middle">600</text>
<line x1="235.5" y1="754.3" x2="235.5" y2="756.8" stroke="#222" stroke-width="0.7" />
<text x="235.5" y="763.3" font-size="5.8" fill="#333" text-anchor="middle">800</text>
<line x1="277.0" y1="754.3" x2="277.0" y2="756.8" stroke="#222" stroke-width="0.7" />
<text x="277.0" y="763.3" font-size="5.8" fill="#333" text-anchor="middle">1000</text>
<line x1="318.5" y1="754.3" x2="318.5" y2="756.8" stroke="#222" stroke-width="0.7" />
<text x="318.5" y="763.3" font-size="5.8" fill="#333" text-anchor="middle">1200</text>
<line x1="360.0" y1="754.3" x2="360.0" y2="756.8" stroke="#222" stroke-width="0.7" />
<text x="360.0" y="763.3" font-size="5.8" fill="#333" text-anchor="middle">1400</text>
<line x1="401.5" y1="754.3" x2="401.5" y2="756.8" stroke="#222" stroke-width="0.7" />
<text x="401.5" y="763.3" font-size="5.8" fill="#333" text-anchor="middle">1600</text>
<line x1="443.0" y1="754.3" x2="443.0" y2="756.8" stroke="#222" stroke-width="0.7" />
<text x="443.0" y="763.3" font-size="5.8" fill="#333" text-anchor="middle">1800</text>
<line x1="90.2" y1="754.3" x2="90.2" y2="755.8" stroke="#222" stroke-width="0.5" />
<line x1="131.8" y1="754.3" x2="131.8" y2="755.8" stroke="#222" stroke-width="0.5" />
<line x1="173.2" y1="754.3" x2="173.2" y2="755.8" stroke="#222" stroke-width="0.5" />
<line x1="214.8" y1="754.3" x2="214.8" y2="755.8" stroke="#222" stroke-width="0.5" />
<line x1="256.2" y1="754.3" x2="256.2" y2="755.8" stroke="#222" stroke-width="0.5" />
<line x1="297.8" y1="754.3" x2="297.8" y2="755.8" stroke="#222" stroke-width="0.5" />
<line x1="339.2" y1="754.3" x2="339.2" y2="755.8" stroke="#222" stroke-width="0.5" />
<line x1="380.8" y1="754.3" x2="380.8" y2="755.8" stroke="#222" stroke-width="0.5" />
<line x1="422.2" y1="754.3" x2="422.2" y2="755.8" stroke="#222" stroke-width="0.5" />
<text x="252.0" y="771.5" font-size="5.5" fill="#333" textLength="19.0" lengthAdjust="spacingAndGlyphs">m/z, Da</text>
<rect x="105.4" y="642.0" width="4.3" height="112.3" fill="#d98a8a" />
<line x1="104.2" y1="642.0" x2="104.2" y2="754.3" stroke="#2d4a2d" stroke-width="0.9" />
<line x1="116.3" y1="642.0" x2="116.3" y2="754.3" stroke="#2d4a2d" stroke-width="0.9" />
<line x1="162.5" y1="642.0" x2="162.5" y2="754.3" stroke="#2d4a2d" stroke-width="0.9" />
<line x1="138.0" y1="642.0" x2="138.0" y2="754.3" stroke="#7f917f" stroke-width="0.8" />
<line x1="199.6" y1="642.0" x2="199.6" y2="754.3" stroke="#7f917f" stroke-width="0.8" />
<line x1="217.5" y1="642.0" x2="217.5" y2="754.3" stroke="#7f917f" stroke-width="0.8" />
<line x1="127.9" y1="642.0" x2="127.9" y2="754.3" stroke="#e39a9a" stroke-width="0.9" />
<line x1="182.3" y1="642.0" x2="182.3" y2="754.3" stroke="#e39a9a" stroke-width="0.9" />
<line x1="206.0" y1="642.0" x2="206.0" y2="754.3" stroke="#e39a9a" stroke-width="0.9" />
<line x1="146.6" y1="642.0" x2="146.6" y2="754.3" stroke="#d14040" stroke-width="0.75" />
<line x1="221.8" y1="642.0" x2="221.8" y2="754.3" stroke="#d14040" stroke-width="0.75" />
<line x1="253.5" y1="642.0" x2="253.5" y2="754.3" stroke="#d14040" stroke-width="0.75" />
<line x1="255.7" y1="642.0" x2="255.7" y2="754.3" stroke="#d14040" stroke-width="0.75" />
<line x1="257.9" y1="642.0" x2="257.9" y2="754.3" stroke="#d14040" stroke-width="0.75" />
<line x1="281.5" y1="642.0" x2="281.5" y2="754.3" stroke="#d14040" stroke-width="0.75" />
<line x1="230.5" y1="642.0" x2="230.5" y2="754.3" stroke="#8a3030" stroke-width="1" />
<line x1="99.0" y1="688.8" x2="99.0" y2="754.3" stroke="#3a4ca6" stroke-width="0.9" />
<line x1="120.7" y1="694.5" x2="120.7" y2="754.3" stroke="#3a4ca6" stroke-width="0.9" />
<line x1="125.6" y1="687.6" x2="125.6" y2="754.3" stroke="#3a4ca6" stroke-width="0.9" />
<line x1="129.3" y1="719.8" x2="129.3" y2="754.3" stroke="#3a4ca6" stroke-width="0.9" />
<line x1="135.0" y1="729.0" x2="135.0" y2="754.3" stroke="#3a4ca6" stroke-width="0.9" />
<line x1="92.7" y1="729.0" x2="92.7" y2="754.3" stroke="#3a4ca6" stroke-width="0.9" />
<line x1="104.8" y1="734.8" x2="104.8" y2="754.3" stroke="#3a4ca6" stroke-width="0.9" />
<line x1="158.2" y1="655.4" x2="158.2" y2="754.3" stroke="#3a4ca6" stroke-width="0.9" />
<line x1="97.0" y1="733.6" x2="97.0" y2="754.3" stroke="#3a4ca6" stroke-width="0.9" />
<line x1="110.0" y1="735.9" x2="110.0" y2="754.3" stroke="#3a4ca6" stroke-width="0.9" />
<line x1="114.0" y1="738.2" x2="114.0" y2="754.3" stroke="#3a4ca6" stroke-width="0.9" />
<line x1="143.0" y1="745.1" x2="143.0" y2="754.3" stroke="#3a4ca6" stroke-width="0.9" />
<line x1="150.0" y1="743.9" x2="150.0" y2="754.3" stroke="#3a4ca6" stroke-width="0.9" />
<line x1="172.7" y1="745.1" x2="172.7" y2="754.3" stroke="#3a4ca6" stroke-width="0.9" />
<line x1="182.3" y1="742.8" x2="182.3" y2="754.3" stroke="#3a4ca6" stroke-width="0.9" />
<line x1="206.0" y1="748.5" x2="206.0" y2="754.3" stroke="#3a4ca6" stroke-width="0.9" />
<line x1="230.0" y1="745.1" x2="230.0" y2="754.3" stroke="#3a4ca6" stroke-width="0.9" />
<line x1="256.0" y1="747.4" x2="256.0" y2="754.3" stroke="#3a4ca6" stroke-width="0.9" />
<line x1="80.0" y1="745.1" x2="80.0" y2="754.3" stroke="#8f9dd6" stroke-width="0.9" />
<line x1="81.5" y1="747.4" x2="81.5" y2="754.3" stroke="#2e3f9c" stroke-width="0.9" />
<line x1="83.0" y1="749.7" x2="83.0" y2="754.3" stroke="#8f9dd6" stroke-width="0.9" />
<line x1="84.9" y1="749.7" x2="84.9" y2="754.3" stroke="#5566b4" stroke-width="0.9" />
<line x1="85.9" y1="748.5" x2="85.9" y2="754.3" stroke="#5566b4" stroke-width="0.9" />
<line x1="87.4" y1="742.8" x2="87.4" y2="754.3" stroke="#2e3f9c" stroke-width="0.9" />
<line x1="88.9" y1="742.8" x2="88.9" y2="754.3" stroke="#2e3f9c" stroke-width="0.9" />
<line x1="90.1" y1="748.5" x2="90.1" y2="754.3" stroke="#5566b4" stroke-width="0.9" />
<line x1="92.0" y1="747.4" x2="92.0" y2="754.3" stroke="#2e3f9c" stroke-width="0.9" />
<line x1="93.2" y1="747.4" x2="93.2" y2="754.3" stroke="#5566b4" stroke-width="0.9" />
<line x1="94.2" y1="747.4" x2="94.2" y2="754.3" stroke="#2e3f9c" stroke-width="0.9" />
<line x1="95.7" y1="748.5" x2="95.7" y2="754.3" stroke="#5566b4" stroke-width="0.9" />
<line x1="97.6" y1="749.7" x2="97.6" y2="754.3" stroke="#2e3f9c" stroke-width="0.9" />
<line x1="99.5" y1="749.7" x2="99.5" y2="754.3" stroke="#8f9dd6" stroke-width="0.9" />
<line x1="101.0" y1="752.0" x2="101.0" y2="754.3" stroke="#5566b4" stroke-width="0.9" />
<line x1="102.0" y1="747.4" x2="102.0" y2="754.3" stroke="#8f9dd6" stroke-width="0.9" />
<line x1="103.5" y1="745.1" x2="103.5" y2="754.3" stroke="#5566b4" stroke-width="0.9" />
<line x1="104.5" y1="745.1" x2="104.5" y2="754.3" stroke="#5566b4" stroke-width="0.9" />
<line x1="106.4" y1="749.7" x2="106.4" y2="754.3" stroke="#2e3f9c" stroke-width="0.9" />
<line x1="108.3" y1="752.0" x2="108.3" y2="754.3" stroke="#8f9dd6" stroke-width="0.9" />
<line x1="109.5" y1="749.7" x2="109.5" y2="754.3" stroke="#2e3f9c" stroke-width="0.9" />
<line x1="110.7" y1="752.0" x2="110.7" y2="754.3" stroke="#2e3f9c" stroke-width="0.9" />
<line x1="111.9" y1="752.0" x2="111.9" y2="754.3" stroke="#5566b4" stroke-width="0.9" />
<line x1="113.4" y1="745.1" x2="113.4" y2="754.3" stroke="#8f9dd6" stroke-width="0.9" />
<line x1="114.9" y1="745.1" x2="114.9" y2="754.3" stroke="#2e3f9c" stroke-width="0.9" />
<line x1="116.4" y1="752.0" x2="116.4" y2="754.3" stroke="#2e3f9c" stroke-width="0.9" />
<line x1="117.6" y1="749.7" x2="117.6" y2="754.3" stroke="#5566b4" stroke-width="0.9" />
<line x1="118.8" y1="750.8" x2="118.8" y2="754.3" stroke="#5566b4" stroke-width="0.9" />
<line x1="120.7" y1="752.0" x2="120.7" y2="754.3" stroke="#2e3f9c" stroke-width="0.9" />
<line x1="122.6" y1="749.7" x2="122.6" y2="754.3" stroke="#2e3f9c" stroke-width="0.9" />
<line x1="123.6" y1="749.7" x2="123.6" y2="754.3" stroke="#2e3f9c" stroke-width="0.9" />
<line x1="124.6" y1="749.7" x2="124.6" y2="754.3" stroke="#8f9dd6" stroke-width="0.9" />
<line x1="125.6" y1="745.1" x2="125.6" y2="754.3" stroke="#8f9dd6" stroke-width="0.9" />
<line x1="126.6" y1="745.1" x2="126.6" y2="754.3" stroke="#8f9dd6" stroke-width="0.9" />
<line x1="128.1" y1="749.7" x2="128.1" y2="754.3" stroke="#2e3f9c" stroke-width="0.9" />
<line x1="130.0" y1="749.7" x2="130.0" y2="754.3" stroke="#5566b4" stroke-width="0.9" />
<line x1="131.9" y1="748.5" x2="131.9" y2="754.3" stroke="#2e3f9c" stroke-width="0.9" />
<line x1="133.8" y1="749.7" x2="133.8" y2="754.3" stroke="#2e3f9c" stroke-width="0.9" />
<line x1="135.3" y1="745.1" x2="135.3" y2="754.3" stroke="#2e3f9c" stroke-width="0.9" />
<line x1="137.2" y1="748.5" x2="137.2" y2="754.3" stroke="#2e3f9c" stroke-width="0.9" />
<line x1="138.4" y1="747.4" x2="138.4" y2="754.3" stroke="#8f9dd6" stroke-width="0.9" />
<line x1="139.9" y1="742.8" x2="139.9" y2="754.3" stroke="#2e3f9c" stroke-width="0.9" />
<line x1="140.9" y1="752.0" x2="140.9" y2="754.3" stroke="#2e3f9c" stroke-width="0.9" />
<line x1="141.9" y1="749.7" x2="141.9" y2="754.3" stroke="#8f9dd6" stroke-width="0.9" />
<line x1="143.8" y1="742.8" x2="143.8" y2="754.3" stroke="#5566b4" stroke-width="0.9" />
<line x1="144.8" y1="748.5" x2="144.8" y2="754.3" stroke="#8f9dd6" stroke-width="0.9" />
<line x1="146.7" y1="748.5" x2="146.7" y2="754.3" stroke="#5566b4" stroke-width="0.9" />
<line x1="147.7" y1="750.8" x2="147.7" y2="754.3" stroke="#5566b4" stroke-width="0.9" />
<line x1="148.7" y1="749.7" x2="148.7" y2="754.3" stroke="#5566b4" stroke-width="0.9" />
<line x1="150.2" y1="752.5" x2="150.2" y2="754.3" stroke="#8f9dd6" stroke-width="0.9" />
<line x1="151.4" y1="752.5" x2="151.4" y2="754.3" stroke="#2e3f9c" stroke-width="0.9" />
<line x1="152.6" y1="751.5" x2="152.6" y2="754.3" stroke="#2e3f9c" stroke-width="0.9" />
<line x1="153.6" y1="751.5" x2="153.6" y2="754.3" stroke="#5566b4" stroke-width="0.9" />
<line x1="154.6" y1="750.8" x2="154.6" y2="754.3" stroke="#5566b4" stroke-width="0.9" />
<line x1="156.1" y1="749.7" x2="156.1" y2="754.3" stroke="#2e3f9c" stroke-width="0.9" />
<line x1="157.3" y1="752.0" x2="157.3" y2="754.3" stroke="#5566b4" stroke-width="0.9" />
<line x1="158.5" y1="749.7" x2="158.5" y2="754.3" stroke="#2e3f9c" stroke-width="0.9" />
<line x1="159.5" y1="750.8" x2="159.5" y2="754.3" stroke="#5566b4" stroke-width="0.9" />
<line x1="161.4" y1="749.7" x2="161.4" y2="754.3" stroke="#2e3f9c" stroke-width="0.9" />
<line x1="162.4" y1="751.5" x2="162.4" y2="754.3" stroke="#2e3f9c" stroke-width="0.9" />
<line x1="163.4" y1="749.7" x2="163.4" y2="754.3" stroke="#2e3f9c" stroke-width="0.9" />
<line x1="164.4" y1="750.8" x2="164.4" y2="754.3" stroke="#8f9dd6" stroke-width="0.9" />
<line x1="165.6" y1="750.8" x2="165.6" y2="754.3" stroke="#5566b4" stroke-width="0.9" />
<line x1="166.8" y1="752.0" x2="166.8" y2="754.3" stroke="#8f9dd6" stroke-width="0.9" />
<line x1="168.0" y1="749.7" x2="168.0" y2="754.3" stroke="#5566b4" stroke-width="0.9" />
<line x1="169.9" y1="752.0" x2="169.9" y2="754.3" stroke="#5566b4" stroke-width="0.9" />
<line x1="171.1" y1="751.5" x2="171.1" y2="754.3" stroke="#8f9dd6" stroke-width="0.9" />
<line x1="172.6" y1="749.7" x2="172.6" y2="754.3" stroke="#8f9dd6" stroke-width="0.9" />
<line x1="174.1" y1="750.8" x2="174.1" y2="754.3" stroke="#2e3f9c" stroke-width="0.9" />
<line x1="175.1" y1="752.5" x2="175.1" y2="754.3" stroke="#2e3f9c" stroke-width="0.9" />
<line x1="176.6" y1="750.8" x2="176.6" y2="754.3" stroke="#2e3f9c" stroke-width="0.9" />
<line x1="177.6" y1="750.8" x2="177.6" y2="754.3" stroke="#2e3f9c" stroke-width="0.9" />
<line x1="178.8" y1="752.5" x2="178.8" y2="754.3" stroke="#5566b4" stroke-width="0.9" />
<line x1="179.8" y1="752.0" x2="179.8" y2="754.3" stroke="#5566b4" stroke-width="0.9" />
<line x1="181.3" y1="750.8" x2="181.3" y2="754.3" stroke="#2e3f9c" stroke-width="0.9" />
<line x1="182.3" y1="752.0" x2="182.3" y2="754.3" stroke="#5566b4" stroke-width="0.9" />
<line x1="183.8" y1="752.5" x2="183.8" y2="754.3" stroke="#5566b4" stroke-width="0.9" />
<line x1="184.8" y1="752.0" x2="184.8" y2="754.3" stroke="#2e3f9c" stroke-width="0.9" />
<line x1="186.7" y1="750.8" x2="186.7" y2="754.3" stroke="#2e3f9c" stroke-width="0.9" />
<line x1="188.6" y1="749.7" x2="188.6" y2="754.3" stroke="#8f9dd6" stroke-width="0.9" />
<line x1="189.8" y1="752.0" x2="189.8" y2="754.3" stroke="#8f9dd6" stroke-width="0.9" />
<line x1="191.3" y1="751.5" x2="191.3" y2="754.3" stroke="#5566b4" stroke-width="0.9" />
<line x1="192.3" y1="752.5" x2="192.3" y2="754.3" stroke="#2e3f9c" stroke-width="0.9" />
<line x1="193.8" y1="749.7" x2="193.8" y2="754.3" stroke="#5566b4" stroke-width="0.9" />
<line x1="195.3" y1="750.8" x2="195.3" y2="754.3" stroke="#8f9dd6" stroke-width="0.9" />
<line x1="196.3" y1="750.8" x2="196.3" y2="754.3" stroke="#2e3f9c" stroke-width="0.9" />
<line x1="197.5" y1="752.0" x2="197.5" y2="754.3" stroke="#5566b4" stroke-width="0.9" />
<line x1="199.0" y1="751.5" x2="199.0" y2="754.3" stroke="#2e3f9c" stroke-width="0.9" />
<line x1="200.2" y1="750.8" x2="200.2" y2="754.3" stroke="#2e3f9c" stroke-width="0.9" />
<line x1="201.4" y1="750.8" x2="201.4" y2="754.3" stroke="#5566b4" stroke-width="0.9" />
<line x1="204.4" y1="749.7" x2="204.4" y2="754.3" stroke="#2e3f9c" stroke-width="0.9" />
<line x1="207.4" y1="749.7" x2="207.4" y2="754.3" stroke="#5566b4" stroke-width="0.9" />
<line x1="210.4" y1="752.0" x2="210.4" y2="754.3" stroke="#5566b4" stroke-width="0.9" />
<line x1="211.6" y1="752.0" x2="211.6" y2="754.3" stroke="#2e3f9c" stroke-width="0.9" />
<line x1="212.8" y1="751.5" x2="212.8" y2="754.3" stroke="#8f9dd6" stroke-width="0.9" />
<line x1="215.8" y1="750.8" x2="215.8" y2="754.3" stroke="#8f9dd6" stroke-width="0.9" />
<line x1="217.8" y1="750.8" x2="217.8" y2="754.3" stroke="#2e3f9c" stroke-width="0.9" />
<line x1="219.0" y1="750.8" x2="219.0" y2="754.3" stroke="#2e3f9c" stroke-width="0.9" />
<line x1="221.0" y1="752.5" x2="221.0" y2="754.3" stroke="#8f9dd6" stroke-width="0.9" />
<line x1="222.2" y1="749.7" x2="222.2" y2="754.3" stroke="#5566b4" stroke-width="0.9" />
<line x1="223.4" y1="752.5" x2="223.4" y2="754.3" stroke="#2e3f9c" stroke-width="0.9" />
<line x1="226.4" y1="749.7" x2="226.4" y2="754.3" stroke="#2e3f9c" stroke-width="0.9" />
<line x1="227.6" y1="752.5" x2="227.6" y2="754.3" stroke="#2e3f9c" stroke-width="0.9" />
<line x1="230.6" y1="751.5" x2="230.6" y2="754.3" stroke="#8f9dd6" stroke-width="0.9" />
<line x1="232.6" y1="750.8" x2="232.6" y2="754.3" stroke="#8f9dd6" stroke-width="0.9" />
<line x1="233.8" y1="750.8" x2="233.8" y2="754.3" stroke="#5566b4" stroke-width="0.9" />
<line x1="236.8" y1="749.7" x2="236.8" y2="754.3" stroke="#5566b4" stroke-width="0.9" />
<line x1="238.0" y1="750.8" x2="238.0" y2="754.3" stroke="#5566b4" stroke-width="0.9" />
<line x1="239.2" y1="752.0" x2="239.2" y2="754.3" stroke="#5566b4" stroke-width="0.9" />
<line x1="242.2" y1="752.5" x2="242.2" y2="754.3" stroke="#5566b4" stroke-width="0.9" />
<line x1="243.4" y1="750.8" x2="243.4" y2="754.3" stroke="#5566b4" stroke-width="0.9" />
<line x1="244.6" y1="751.5" x2="244.6" y2="754.3" stroke="#8f9dd6" stroke-width="0.9" />
<line x1="246.6" y1="751.5" x2="246.6" y2="754.3" stroke="#2e3f9c" stroke-width="0.9" />
<line x1="248.6" y1="752.5" x2="248.6" y2="754.3" stroke="#2e3f9c" stroke-width="0.9" />
<line x1="249.8" y1="750.8" x2="249.8" y2="754.3" stroke="#2e3f9c" stroke-width="0.9" />
<line x1="252.8" y1="752.0" x2="252.8" y2="754.3" stroke="#2e3f9c" stroke-width="0.9" />
<line x1="254.0" y1="749.7" x2="254.0" y2="754.3" stroke="#8f9dd6" stroke-width="0.9" />
<line x1="257.0" y1="751.5" x2="257.0" y2="754.3" stroke="#2e3f9c" stroke-width="0.9" />
<line x1="259.0" y1="751.5" x2="259.0" y2="754.3" stroke="#5566b4" stroke-width="0.9" />
<line x1="261.0" y1="752.0" x2="261.0" y2="754.3" stroke="#2e3f9c" stroke-width="0.9" />
<line x1="263.0" y1="749.7" x2="263.0" y2="754.3" stroke="#2e3f9c" stroke-width="0.9" />
<line x1="264.2" y1="750.8" x2="264.2" y2="754.3" stroke="#5566b4" stroke-width="0.9" />
<line x1="265.4" y1="752.0" x2="265.4" y2="754.3" stroke="#2e3f9c" stroke-width="0.9" />
<line x1="266.6" y1="750.8" x2="266.6" y2="754.3" stroke="#8f9dd6" stroke-width="0.9" />
<line x1="268.6" y1="752.5" x2="268.6" y2="754.3" stroke="#2e3f9c" stroke-width="0.9" />
<line x1="270.6" y1="751.1" x2="270.6" y2="754.3" stroke="#3a4ca6" stroke-width="0.7" />
<line x1="278.6" y1="751.8" x2="278.6" y2="754.3" stroke="#3a4ca6" stroke-width="0.7" />
<line x1="283.1" y1="751.8" x2="283.1" y2="754.3" stroke="#3a4ca6" stroke-width="0.7" />
<line x1="286.1" y1="751.8" x2="286.1" y2="754.3" stroke="#3a4ca6" stroke-width="0.7" />
<line x1="288.1" y1="751.1" x2="288.1" y2="754.3" stroke="#3a4ca6" stroke-width="0.7" />
<line x1="290.1" y1="751.1" x2="290.1" y2="754.3" stroke="#3a4ca6" stroke-width="0.7" />
<line x1="296.1" y1="752.5" x2="296.1" y2="754.3" stroke="#3a4ca6" stroke-width="0.7" />
<line x1="298.1" y1="752.5" x2="298.1" y2="754.3" stroke="#3a4ca6" stroke-width="0.7" />
<line x1="300.1" y1="751.8" x2="300.1" y2="754.3" stroke="#3a4ca6" stroke-width="0.7" />
<line x1="303.1" y1="751.8" x2="303.1" y2="754.3" stroke="#3a4ca6" stroke-width="0.7" />
<line x1="307.6" y1="752.5" x2="307.6" y2="754.3" stroke="#3a4ca6" stroke-width="0.7" />
<line x1="309.6" y1="751.1" x2="309.6" y2="754.3" stroke="#3a4ca6" stroke-width="0.7" />
<line x1="314.1" y1="751.8" x2="314.1" y2="754.3" stroke="#3a4ca6" stroke-width="0.7" />
<line x1="320.1" y1="752.5" x2="320.1" y2="754.3" stroke="#3a4ca6" stroke-width="0.7" />
<line x1="328.1" y1="752.5" x2="328.1" y2="754.3" stroke="#3a4ca6" stroke-width="0.7" />
<line x1="334.1" y1="751.1" x2="334.1" y2="754.3" stroke="#3a4ca6" stroke-width="0.7" />
<line x1="338.6" y1="751.1" x2="338.6" y2="754.3" stroke="#3a4ca6" stroke-width="0.7" />
<line x1="343.1" y1="751.8" x2="343.1" y2="754.3" stroke="#3a4ca6" stroke-width="0.7" />
<line x1="351.1" y1="752.5" x2="351.1" y2="754.3" stroke="#3a4ca6" stroke-width="0.7" />
<line x1="359.1" y1="752.5" x2="359.1" y2="754.3" stroke="#3a4ca6" stroke-width="0.7" />
<line x1="361.1" y1="751.1" x2="361.1" y2="754.3" stroke="#3a4ca6" stroke-width="0.7" />
<line x1="363.1" y1="752.5" x2="363.1" y2="754.3" stroke="#3a4ca6" stroke-width="0.7" />
<line x1="367.6" y1="751.8" x2="367.6" y2="754.3" stroke="#3a4ca6" stroke-width="0.7" />
<line x1="372.1" y1="751.8" x2="372.1" y2="754.3" stroke="#3a4ca6" stroke-width="0.7" />
<line x1="378.1" y1="751.8" x2="378.1" y2="754.3" stroke="#3a4ca6" stroke-width="0.7" />
<line x1="381.1" y1="751.1" x2="381.1" y2="754.3" stroke="#3a4ca6" stroke-width="0.7" />
<line x1="384.1" y1="751.1" x2="384.1" y2="754.3" stroke="#3a4ca6" stroke-width="0.7" />
<line x1="387.1" y1="751.1" x2="387.1" y2="754.3" stroke="#3a4ca6" stroke-width="0.7" />
<line x1="390.1" y1="751.8" x2="390.1" y2="754.3" stroke="#3a4ca6" stroke-width="0.7" />
<line x1="398.1" y1="751.1" x2="398.1" y2="754.3" stroke="#3a4ca6" stroke-width="0.7" />
<line x1="401.1" y1="751.8" x2="401.1" y2="754.3" stroke="#3a4ca6" stroke-width="0.7" />
<line x1="404.1" y1="751.8" x2="404.1" y2="754.3" stroke="#3a4ca6" stroke-width="0.7" />
<line x1="412.1" y1="751.1" x2="412.1" y2="754.3" stroke="#3a4ca6" stroke-width="0.7" />
<line x1="414.1" y1="751.8" x2="414.1" y2="754.3" stroke="#3a4ca6" stroke-width="0.7" />
<text x="100.0" y="649.5" font-size="6" fill="#d14040">y1</text>
<text x="119.5" y="649.5" font-size="6" fill="#d14040">y2</text>
<text x="139.5" y="649.5" font-size="6" fill="#d14040">y3</text>
<text x="152.0" y="649.5" font-size="6" fill="#d14040">y4</text>
<text x="175.0" y="649.5" font-size="6" fill="#d14040">y5</text>
<text x="200.0" y="649.5" font-size="6" fill="#d14040">y6</text>
<text x="223.0" y="649.5" font-size="6" fill="#d14040">y7</text>
<text x="251.5" y="649.5" font-size="6" fill="#d14040">y8</text>
<text x="274.0" y="649.5" font-size="6" fill="#d14040">y9</text>
<text x="89.5" y="656.5" font-size="5.3" fill="#3a9a5a" textLength="17.5" lengthAdjust="spacingAndGlyphs">b1y1b2+2</text>
<text x="130.5" y="656.5" font-size="5.3" fill="#3a9a5a">b1</text>
<text x="155.0" y="656.5" font-size="5.3" fill="#3a9a5a">b2</text>
<text x="185.8" y="656.5" font-size="5.3" fill="#3a9a5a" textLength="12.0" lengthAdjust="spacingAndGlyphs">b7+2</text>
<text x="204.5" y="656.5" font-size="5.3" fill="#3a9a5a" textLength="14.5" lengthAdjust="spacingAndGlyphs">y8H2O2</text>
<text x="223.5" y="656.5" font-size="5.3" fill="#3a9a5a">b3</text>
<text x="236.0" y="656.5" font-size="5.3" fill="#3a9a5a" textLength="16.0" lengthAdjust="spacingAndGlyphs">y12+2</text>
<text x="163.0" y="662.0" font-size="5.8" fill="#222" textLength="17.0" lengthAdjust="spacingAndGlyphs">428.30</text>
<text x="90.0" y="687.0" font-size="5.8" fill="#222" textLength="17.5" lengthAdjust="spacingAndGlyphs">138.08</text>
<text x="117.0" y="685.0" font-size="5.8" fill="#222" textLength="17.5" lengthAdjust="spacingAndGlyphs">269.13</text>
<text x="124.0" y="698.0" font-size="5.8" fill="#222" textLength="21.0" lengthAdjust="spacingAndGlyphs">– 245.13</text>
<text x="134.0" y="715.5" font-size="5.8" fill="#222" textLength="17.0" lengthAdjust="spacingAndGlyphs">286.15</text>
<text x="126.5" y="727.5" font-size="5.8" fill="#222" textLength="17.0" lengthAdjust="spacingAndGlyphs">314.14</text>
<text x="83.5" y="727.0" font-size="5.8" fill="#222" textLength="17.0" lengthAdjust="spacingAndGlyphs">110.10</text>
<text x="106.5" y="703.5" font-size="5.8" fill="#222" textLength="17.0" lengthAdjust="spacingAndGlyphs">175.15</text>
<text x="137.0" y="741.0" font-size="5.8" fill="#222" textLength="17.0" lengthAdjust="spacingAndGlyphs">303.18</text>
<text x="156.0" y="743.0" font-size="5.8" fill="#222" textLength="17.0" lengthAdjust="spacingAndGlyphs">497.21</text>
<text x="174.0" y="733.5" font-size="5.8" fill="#222" textLength="17.5" lengthAdjust="spacingAndGlyphs">543.30</text>
<text x="196.4" y="746.0" font-size="5.8" fill="#222" textLength="18.0" lengthAdjust="spacingAndGlyphs">658.32</text>
<text x="221.8" y="743.0" font-size="5.8" fill="#222" textLength="17.5" lengthAdjust="spacingAndGlyphs">772.42</text>
<text x="249.2" y="741.0" font-size="5.8" fill="#222" textLength="17.5" lengthAdjust="spacingAndGlyphs">996.46</text>
<text x="272.3" y="748.0" font-size="5.8" fill="#222" textLength="19.5" lengthAdjust="spacingAndGlyphs">1022.57</text>
<text x="302.6" y="746.5" font-size="5.8" fill="#222" textLength="20.0" lengthAdjust="spacingAndGlyphs">1100.41</text>
<text x="340.0" y="749.5" font-size="5.8" fill="#222" textLength="22.5" lengthAdjust="spacingAndGlyphs">1359.49</text>
<text x="366.5" y="749.5" font-size="5.8" fill="#222" textLength="21.0" lengthAdjust="spacingAndGlyphs">1483.88</text>
<text x="392.5" y="749.5" font-size="5.8" fill="#222" textLength="21.5" lengthAdjust="spacingAndGlyphs">1606.70</text>
<text x="381.5" y="666.0" font-size="17" textLength="77.0" lengthAdjust="spacingAndGlyphs">MSMS-CID</text>
<text x="369.0" y="677.5" font-size="13" textLength="96.0" lengthAdjust="spacingAndGlyphs">CNCIHIDDGPVR</text>
<text x="254.7" y="818.0" font-size="15" font-weight="bold" textLength="37.6" lengthAdjust="spacingAndGlyphs">SVEC</text>
<text transform="translate(127.3,895.0) rotate(-90)" text-anchor="middle" font-size="13.5" font-weight="700" textLength="125.0" lengthAdjust="spacingAndGlyphs">Absorbance 600 nm</text>
<line x1="167.7" y1="830.7" x2="167.7" y2="977.9" stroke="#111" stroke-width="1.2" />
<line x1="167.2" y1="977.4" x2="402.5" y2="977.4" stroke="#111" stroke-width="1.2" />
<line x1="165.0" y1="977.4" x2="167.7" y2="977.4" stroke="#111" stroke-width="1" />
<text x="140.0" y="981.0" font-size="10" font-weight="bold">0</text>
<line x1="165.0" y1="948.2" x2="167.7" y2="948.2" stroke="#111" stroke-width="1" />
<text x="140.0" y="951.8" font-size="10" font-weight="bold" textLength="22.0" lengthAdjust="spacingAndGlyphs">0.05</text>
<line x1="165.0" y1="918.9" x2="167.7" y2="918.9" stroke="#111" stroke-width="1" />
<text x="140.0" y="922.5" font-size="10" font-weight="bold" textLength="22.0" lengthAdjust="spacingAndGlyphs">0.10</text>
<line x1="165.0" y1="889.7" x2="167.7" y2="889.7" stroke="#111" stroke-width="1" />
<text x="140.0" y="893.3" font-size="10" font-weight="bold" textLength="22.0" lengthAdjust="spacingAndGlyphs">0.15</text>
<line x1="165.0" y1="860.4" x2="167.7" y2="860.4" stroke="#111" stroke-width="1" />
<text x="140.0" y="864.0" font-size="10" font-weight="bold" textLength="22.0" lengthAdjust="spacingAndGlyphs">0.20</text>
<line x1="165.0" y1="831.2" x2="167.7" y2="831.2" stroke="#111" stroke-width="1" />
<text x="140.0" y="834.8" font-size="10" font-weight="bold" textLength="22.0" lengthAdjust="spacingAndGlyphs">0.25</text>
<line x1="245.9" y1="977.4" x2="245.9" y2="980.4" stroke="#111" stroke-width="1" />
<line x1="323.7" y1="977.4" x2="323.7" y2="980.4" stroke="#111" stroke-width="1" />
<line x1="402.0" y1="977.4" x2="402.0" y2="980.4" stroke="#111" stroke-width="1" />
<rect x="185.0" y="916.0" width="22.2" height="61.4" fill="#8c8c8c" />
<rect x="207.2" y="853.4" width="21.9" height="124.0" fill="#000" />
<rect x="262.2" y="907.2" width="22.6" height="70.2" fill="#8c8c8c" />
<rect x="284.8" y="885.6" width="22.2" height="91.8" fill="#000" />
<rect x="340.4" y="935.3" width="22.2" height="42.1" fill="#8c8c8c" />
<rect x="362.6" y="895.5" width="22.2" height="81.9" fill="#000" />
<line x1="195.8" y1="901.3" x2="195.8" y2="930.8" stroke="#555" stroke-width="0.9" />
<line x1="218.3" y1="837.6" x2="218.3" y2="853.0" stroke="#555" stroke-width="0.9" />
<line x1="273.3" y1="883.4" x2="273.3" y2="930.8" stroke="#555" stroke-width="0.9" />
<line x1="295.6" y1="862.0" x2="295.6" y2="886.0" stroke="#555" stroke-width="0.9" />
<line x1="351.8" y1="931.4" x2="351.8" y2="939.0" stroke="#555" stroke-width="0.9" />
<line x1="374.0" y1="891.5" x2="374.0" y2="896.0" stroke="#555" stroke-width="0.9" />
<path d="M195.8 890 V828.8 H217 V832.7 M220.3 832.7 V828.8 H374 V876.8" fill="none" stroke="#111" stroke-width="1"/>
<text x="173.6" y="823.5" font-size="11" textLength="38.2" lengthAdjust="spacingAndGlyphs">p=0.006</text>
<text x="357.0" y="823.5" font-size="11" textLength="31.0" lengthAdjust="spacingAndGlyphs">p&lt;0.05</text>
<rect x="278.2" y="832.0" width="8.2" height="8.2" fill="#b4b4b4" stroke="#222" stroke-width="0.8"/>
<rect x="277.6" y="847.4" width="9.8" height="8.8" fill="#000" />
<text x="292.3" y="840.0" font-size="10" font-weight="bold" textLength="44.7" lengthAdjust="spacingAndGlyphs">Wzl-SVEC</text>
<text x="292.3" y="855.0" font-size="10" font-weight="bold" textLength="58.7" lengthAdjust="spacingAndGlyphs">BMP9-SVEC</text>
<text x="202.0" y="988.2" font-size="10" font-weight="bold" textLength="12.6" lengthAdjust="spacingAndGlyphs">NT</text>
<text x="256.5" y="988.2" font-size="10" font-weight="bold" textLength="57.0" lengthAdjust="spacingAndGlyphs">0.75 mg/ml</text>
<text x="344.0" y="988.2" font-size="10" font-weight="bold" textLength="49.5" lengthAdjust="spacingAndGlyphs">1.5 mg/ml</text>
<text x="214.6" y="1011.0" font-size="14.5" font-weight="bold" textLength="144.5" lengthAdjust="spacingAndGlyphs">Anti SDF1 antibody</text>
</svg>
</body></html>
